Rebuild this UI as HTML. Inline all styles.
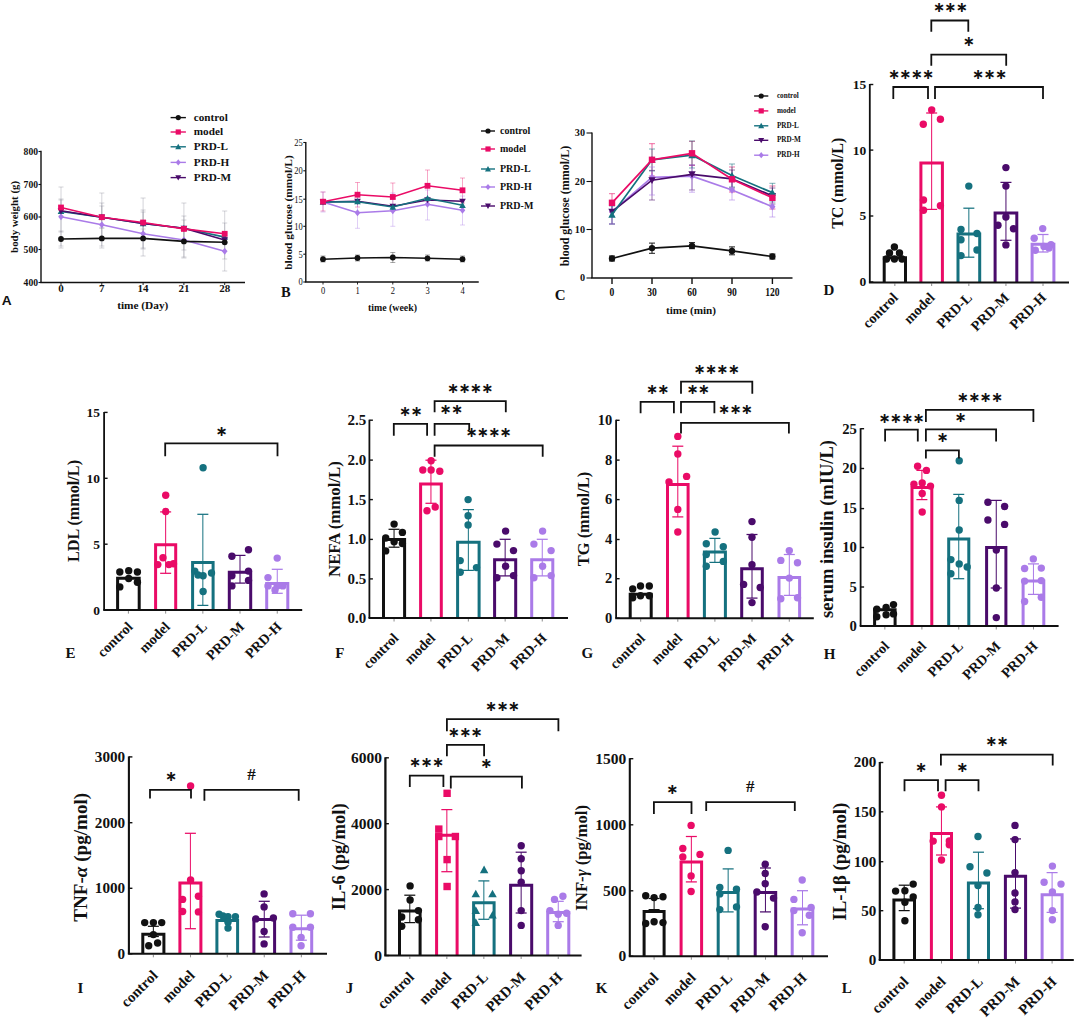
<!DOCTYPE html>
<html><head><meta charset="utf-8"><title>Figure</title>
<style>html,body{margin:0;padding:0;background:#fff;}svg{display:block;}</style></head>
<body><svg width="1080" height="1019" viewBox="0 0 1080 1019">
<rect width="1080" height="1019" fill="#fff"/>
<line x1="61" y1="187" x2="61" y2="246" stroke="#8a8a99" stroke-width="0.8" opacity="0.45"/>
<line x1="58.5" y1="187" x2="63.5" y2="187" stroke="#8a8a99" stroke-width="0.8" opacity="0.45"/>
<line x1="58.5" y1="246" x2="63.5" y2="246" stroke="#8a8a99" stroke-width="0.8" opacity="0.45"/>
<line x1="101.8" y1="193" x2="101.8" y2="240" stroke="#8a8a99" stroke-width="0.8" opacity="0.45"/>
<line x1="99.3" y1="193" x2="104.3" y2="193" stroke="#8a8a99" stroke-width="0.8" opacity="0.45"/>
<line x1="99.3" y1="240" x2="104.3" y2="240" stroke="#8a8a99" stroke-width="0.8" opacity="0.45"/>
<line x1="143.1" y1="198" x2="143.1" y2="248" stroke="#8a8a99" stroke-width="0.8" opacity="0.45"/>
<line x1="140.6" y1="198" x2="145.6" y2="198" stroke="#8a8a99" stroke-width="0.8" opacity="0.45"/>
<line x1="140.6" y1="248" x2="145.6" y2="248" stroke="#8a8a99" stroke-width="0.8" opacity="0.45"/>
<line x1="183.9" y1="203" x2="183.9" y2="250" stroke="#8a8a99" stroke-width="0.8" opacity="0.45"/>
<line x1="181.4" y1="203" x2="186.4" y2="203" stroke="#8a8a99" stroke-width="0.8" opacity="0.45"/>
<line x1="181.4" y1="250" x2="186.4" y2="250" stroke="#8a8a99" stroke-width="0.8" opacity="0.45"/>
<line x1="224.7" y1="211" x2="224.7" y2="259" stroke="#8a8a99" stroke-width="0.8" opacity="0.45"/>
<line x1="222.2" y1="211" x2="227.2" y2="211" stroke="#8a8a99" stroke-width="0.8" opacity="0.45"/>
<line x1="222.2" y1="259" x2="227.2" y2="259" stroke="#8a8a99" stroke-width="0.8" opacity="0.45"/>
<line x1="61" y1="200" x2="61" y2="232" stroke="#8a8a99" stroke-width="0.8" opacity="0.45"/>
<line x1="58.5" y1="200" x2="63.5" y2="200" stroke="#8a8a99" stroke-width="0.8" opacity="0.45"/>
<line x1="58.5" y1="232" x2="63.5" y2="232" stroke="#8a8a99" stroke-width="0.8" opacity="0.45"/>
<line x1="101.8" y1="203" x2="101.8" y2="246" stroke="#8a8a99" stroke-width="0.8" opacity="0.45"/>
<line x1="99.3" y1="203" x2="104.3" y2="203" stroke="#8a8a99" stroke-width="0.8" opacity="0.45"/>
<line x1="99.3" y1="246" x2="104.3" y2="246" stroke="#8a8a99" stroke-width="0.8" opacity="0.45"/>
<line x1="143.1" y1="210" x2="143.1" y2="256" stroke="#8a8a99" stroke-width="0.8" opacity="0.45"/>
<line x1="140.6" y1="210" x2="145.6" y2="210" stroke="#8a8a99" stroke-width="0.8" opacity="0.45"/>
<line x1="140.6" y1="256" x2="145.6" y2="256" stroke="#8a8a99" stroke-width="0.8" opacity="0.45"/>
<line x1="183.9" y1="220" x2="183.9" y2="258" stroke="#8a8a99" stroke-width="0.8" opacity="0.45"/>
<line x1="181.4" y1="220" x2="186.4" y2="220" stroke="#8a8a99" stroke-width="0.8" opacity="0.45"/>
<line x1="181.4" y1="258" x2="186.4" y2="258" stroke="#8a8a99" stroke-width="0.8" opacity="0.45"/>
<line x1="224.7" y1="236" x2="224.7" y2="271" stroke="#8a8a99" stroke-width="0.8" opacity="0.45"/>
<line x1="222.2" y1="236" x2="227.2" y2="236" stroke="#8a8a99" stroke-width="0.8" opacity="0.45"/>
<line x1="222.2" y1="271" x2="227.2" y2="271" stroke="#8a8a99" stroke-width="0.8" opacity="0.45"/>
<line x1="61" y1="231" x2="61" y2="248" stroke="#8a8a99" stroke-width="0.8" opacity="0.45"/>
<line x1="58.5" y1="231" x2="63.5" y2="231" stroke="#8a8a99" stroke-width="0.8" opacity="0.45"/>
<line x1="58.5" y1="248" x2="63.5" y2="248" stroke="#8a8a99" stroke-width="0.8" opacity="0.45"/>
<line x1="101.8" y1="228" x2="101.8" y2="248" stroke="#8a8a99" stroke-width="0.8" opacity="0.45"/>
<line x1="99.3" y1="228" x2="104.3" y2="228" stroke="#8a8a99" stroke-width="0.8" opacity="0.45"/>
<line x1="99.3" y1="248" x2="104.3" y2="248" stroke="#8a8a99" stroke-width="0.8" opacity="0.45"/>
<line x1="143.1" y1="229" x2="143.1" y2="249" stroke="#8a8a99" stroke-width="0.8" opacity="0.45"/>
<line x1="140.6" y1="229" x2="145.6" y2="229" stroke="#8a8a99" stroke-width="0.8" opacity="0.45"/>
<line x1="140.6" y1="249" x2="145.6" y2="249" stroke="#8a8a99" stroke-width="0.8" opacity="0.45"/>
<line x1="183.9" y1="229" x2="183.9" y2="257" stroke="#8a8a99" stroke-width="0.8" opacity="0.45"/>
<line x1="181.4" y1="229" x2="186.4" y2="229" stroke="#8a8a99" stroke-width="0.8" opacity="0.45"/>
<line x1="181.4" y1="257" x2="186.4" y2="257" stroke="#8a8a99" stroke-width="0.8" opacity="0.45"/>
<line x1="224.7" y1="233" x2="224.7" y2="251" stroke="#8a8a99" stroke-width="0.8" opacity="0.45"/>
<line x1="222.2" y1="233" x2="227.2" y2="233" stroke="#8a8a99" stroke-width="0.8" opacity="0.45"/>
<line x1="222.2" y1="251" x2="227.2" y2="251" stroke="#8a8a99" stroke-width="0.8" opacity="0.45"/>
<line x1="61" y1="199" x2="61" y2="216" stroke="#8a8a99" stroke-width="0.8" opacity="0.45"/>
<line x1="58.5" y1="199" x2="63.5" y2="199" stroke="#8a8a99" stroke-width="0.8" opacity="0.45"/>
<line x1="58.5" y1="216" x2="63.5" y2="216" stroke="#8a8a99" stroke-width="0.8" opacity="0.45"/>
<line x1="101.8" y1="206" x2="101.8" y2="228" stroke="#8a8a99" stroke-width="0.8" opacity="0.45"/>
<line x1="99.3" y1="206" x2="104.3" y2="206" stroke="#8a8a99" stroke-width="0.8" opacity="0.45"/>
<line x1="99.3" y1="228" x2="104.3" y2="228" stroke="#8a8a99" stroke-width="0.8" opacity="0.45"/>
<line x1="143.1" y1="212" x2="143.1" y2="233" stroke="#8a8a99" stroke-width="0.8" opacity="0.45"/>
<line x1="140.6" y1="212" x2="145.6" y2="212" stroke="#8a8a99" stroke-width="0.8" opacity="0.45"/>
<line x1="140.6" y1="233" x2="145.6" y2="233" stroke="#8a8a99" stroke-width="0.8" opacity="0.45"/>
<line x1="183.9" y1="216" x2="183.9" y2="241" stroke="#8a8a99" stroke-width="0.8" opacity="0.45"/>
<line x1="181.4" y1="216" x2="186.4" y2="216" stroke="#8a8a99" stroke-width="0.8" opacity="0.45"/>
<line x1="181.4" y1="241" x2="186.4" y2="241" stroke="#8a8a99" stroke-width="0.8" opacity="0.45"/>
<line x1="224.7" y1="223" x2="224.7" y2="244" stroke="#8a8a99" stroke-width="0.8" opacity="0.45"/>
<line x1="222.2" y1="223" x2="227.2" y2="223" stroke="#8a8a99" stroke-width="0.8" opacity="0.45"/>
<line x1="222.2" y1="244" x2="227.2" y2="244" stroke="#8a8a99" stroke-width="0.8" opacity="0.45"/>
<polyline points="61,216.7 101.8,224.8 143.1,233.8 183.9,240 224.7,251.3" fill="none" stroke="#AA7BE8" stroke-width="1.6"/>
<path d="M61 213.22L63.78 216.7L61 220.18L58.22 216.7Z" fill="#AA7BE8"/>
<path d="M101.8 221.32L104.58 224.8L101.8 228.28L99.02 224.8Z" fill="#AA7BE8"/>
<path d="M143.1 230.32L145.88 233.8L143.1 237.28L140.32 233.8Z" fill="#AA7BE8"/>
<path d="M183.9 236.52L186.68 240L183.9 243.48L181.12 240Z" fill="#AA7BE8"/>
<path d="M224.7 247.82L227.48 251.3L224.7 254.78L221.92 251.3Z" fill="#AA7BE8"/>
<polyline points="61,211.4 101.8,217.2 143.1,223.5 183.9,228.3 224.7,237.1" fill="none" stroke="#15717F" stroke-width="1.6"/>
<path d="M61 208.06L64.33 214.07L57.66 214.07Z" fill="#15717F"/>
<path d="M101.8 213.86L105.13 219.87L98.47 219.87Z" fill="#15717F"/>
<path d="M143.1 220.16L146.44 226.17L139.76 226.17Z" fill="#15717F"/>
<path d="M183.9 224.97L187.24 230.97L180.56 230.97Z" fill="#15717F"/>
<path d="M224.7 233.76L228.03 239.77L221.36 239.77Z" fill="#15717F"/>
<polyline points="61,210.8 101.8,217.2 143.1,223.5 183.9,228.3 224.7,240" fill="none" stroke="#4A0B6B" stroke-width="1.6"/>
<path d="M61 214.14L64.33 208.13L57.66 208.13Z" fill="#4A0B6B"/>
<path d="M101.8 220.53L105.13 214.53L98.47 214.53Z" fill="#4A0B6B"/>
<path d="M143.1 226.84L146.44 220.83L139.76 220.83Z" fill="#4A0B6B"/>
<path d="M183.9 231.64L187.24 225.63L180.56 225.63Z" fill="#4A0B6B"/>
<path d="M224.7 243.34L228.03 237.33L221.36 237.33Z" fill="#4A0B6B"/>
<polyline points="61,239 101.8,238.4 143.1,238.4 183.9,241.4 224.7,242.3" fill="none" stroke="#111111" stroke-width="1.6"/>
<circle cx="61" cy="239" r="2.9" fill="#111111"/>
<circle cx="101.8" cy="238.4" r="2.9" fill="#111111"/>
<circle cx="143.1" cy="238.4" r="2.9" fill="#111111"/>
<circle cx="183.9" cy="241.4" r="2.9" fill="#111111"/>
<circle cx="224.7" cy="242.3" r="2.9" fill="#111111"/>
<polyline points="61,207.5 101.8,217.2 143.1,222.5 183.9,228.9 224.7,233.8" fill="none" stroke="#EA0B66" stroke-width="1.6"/>
<rect x="58.1" y="204.6" width="5.8" height="5.8" fill="#EA0B66"/>
<rect x="98.9" y="214.3" width="5.8" height="5.8" fill="#EA0B66"/>
<rect x="140.2" y="219.6" width="5.8" height="5.8" fill="#EA0B66"/>
<rect x="181" y="226" width="5.8" height="5.8" fill="#EA0B66"/>
<rect x="221.8" y="230.9" width="5.8" height="5.8" fill="#EA0B66"/>
<line x1="41" y1="150.8" x2="41" y2="282.5" stroke="#111111" stroke-width="1.4" />
<line x1="40.3" y1="282.5" x2="245" y2="282.5" stroke="#111111" stroke-width="1.6" />
<line x1="38.5" y1="151.5" x2="41" y2="151.5" stroke="#111111" stroke-width="1.1" />
<text x="38" y="154.67" font-family="'Liberation Serif', 'DejaVu Serif', serif" font-weight="bold" font-size="9.6" text-anchor="end" fill="#111111" >800</text>
<line x1="38.5" y1="184.5" x2="41" y2="184.5" stroke="#111111" stroke-width="1.1" />
<text x="38" y="187.67" font-family="'Liberation Serif', 'DejaVu Serif', serif" font-weight="bold" font-size="9.6" text-anchor="end" fill="#111111" >700</text>
<line x1="38.5" y1="217" x2="41" y2="217" stroke="#111111" stroke-width="1.1" />
<text x="38" y="220.17" font-family="'Liberation Serif', 'DejaVu Serif', serif" font-weight="bold" font-size="9.6" text-anchor="end" fill="#111111" >600</text>
<line x1="38.5" y1="249.5" x2="41" y2="249.5" stroke="#111111" stroke-width="1.1" />
<text x="38" y="252.67" font-family="'Liberation Serif', 'DejaVu Serif', serif" font-weight="bold" font-size="9.6" text-anchor="end" fill="#111111" >500</text>
<line x1="38.5" y1="282.5" x2="41" y2="282.5" stroke="#111111" stroke-width="1.1" />
<text x="38" y="285.67" font-family="'Liberation Serif', 'DejaVu Serif', serif" font-weight="bold" font-size="9.6" text-anchor="end" fill="#111111" >400</text>
<line x1="61" y1="282.5" x2="61" y2="285" stroke="#111111" stroke-width="0.9" />
<text x="61" y="292.43" font-family="'Liberation Serif', 'DejaVu Serif', serif" font-weight="bold" font-size="11" text-anchor="middle" fill="#111111" >0</text>
<line x1="101.8" y1="282.5" x2="101.8" y2="285" stroke="#111111" stroke-width="0.9" />
<text x="101.8" y="292.43" font-family="'Liberation Serif', 'DejaVu Serif', serif" font-weight="bold" font-size="11" text-anchor="middle" fill="#111111" >7</text>
<line x1="143.1" y1="282.5" x2="143.1" y2="285" stroke="#111111" stroke-width="0.9" />
<text x="143.1" y="292.43" font-family="'Liberation Serif', 'DejaVu Serif', serif" font-weight="bold" font-size="11" text-anchor="middle" fill="#111111" >14</text>
<line x1="183.9" y1="282.5" x2="183.9" y2="285" stroke="#111111" stroke-width="0.9" />
<text x="183.9" y="292.43" font-family="'Liberation Serif', 'DejaVu Serif', serif" font-weight="bold" font-size="11" text-anchor="middle" fill="#111111" >21</text>
<line x1="224.7" y1="282.5" x2="224.7" y2="285" stroke="#111111" stroke-width="0.9" />
<text x="224.7" y="292.43" font-family="'Liberation Serif', 'DejaVu Serif', serif" font-weight="bold" font-size="11" text-anchor="middle" fill="#111111" >28</text>
<text x="142.75" y="308.73" font-family="'Liberation Serif', 'DejaVu Serif', serif" font-weight="bold" font-size="11.3" text-anchor="middle" fill="#111111" >time (Day)</text>
<text x="18.1" y="216.9" font-family="'Liberation Serif', 'DejaVu Serif', serif" font-weight="bold" font-size="10.9" text-anchor="middle" fill="#111111" transform="rotate(-90 18.1 216.9)" >body weight (g)</text>
<line x1="170.6" y1="117.6" x2="185.9" y2="117.6" stroke="#111111" stroke-width="1.4" />
<circle cx="178.25" cy="117.6" r="2.6" fill="#111111"/>
<text x="193.8" y="120.74" font-family="'Liberation Serif', 'DejaVu Serif', serif" font-weight="bold" font-size="11.2" text-anchor="start" fill="#111111" >control</text>
<line x1="170.6" y1="132" x2="185.9" y2="132" stroke="#EA0B66" stroke-width="1.4" />
<rect x="175.65" y="129.4" width="5.2" height="5.2" fill="#EA0B66"/>
<text x="193.8" y="135.14" font-family="'Liberation Serif', 'DejaVu Serif', serif" font-weight="bold" font-size="11.2" text-anchor="start" fill="#111111" >model</text>
<line x1="170.6" y1="146.8" x2="185.9" y2="146.8" stroke="#15717F" stroke-width="1.4" />
<path d="M178.25 143.81L181.24 149.19L175.26 149.19Z" fill="#15717F"/>
<text x="193.8" y="149.94" font-family="'Liberation Serif', 'DejaVu Serif', serif" font-weight="bold" font-size="11.2" text-anchor="start" fill="#111111" >PRD-L</text>
<line x1="170.6" y1="162.4" x2="185.9" y2="162.4" stroke="#AA7BE8" stroke-width="1.4" />
<path d="M178.25 159.28L180.75 162.4L178.25 165.52L175.75 162.4Z" fill="#AA7BE8"/>
<text x="193.8" y="165.54" font-family="'Liberation Serif', 'DejaVu Serif', serif" font-weight="bold" font-size="11.2" text-anchor="start" fill="#111111" >PRD-H</text>
<line x1="170.6" y1="177.6" x2="185.9" y2="177.6" stroke="#4A0B6B" stroke-width="1.4" />
<path d="M178.25 180.59L181.24 175.21L175.26 175.21Z" fill="#4A0B6B"/>
<text x="193.8" y="180.74" font-family="'Liberation Serif', 'DejaVu Serif', serif" font-weight="bold" font-size="11.2" text-anchor="start" fill="#111111" >PRD-M</text>
<text x="6.75" y="304.83" font-family="'Liberation Sans', sans-serif" font-weight="bold" font-size="13.7" text-anchor="middle" fill="#111111" >A</text>
<line x1="323" y1="192" x2="323" y2="211" stroke="#EA0B66" stroke-width="0.8" opacity="0.45"/>
<line x1="320.5" y1="192" x2="325.5" y2="192" stroke="#EA0B66" stroke-width="0.8" opacity="0.45"/>
<line x1="320.5" y1="211" x2="325.5" y2="211" stroke="#EA0B66" stroke-width="0.8" opacity="0.45"/>
<line x1="357.5" y1="182.5" x2="357.5" y2="207" stroke="#EA0B66" stroke-width="0.8" opacity="0.45"/>
<line x1="355" y1="182.5" x2="360" y2="182.5" stroke="#EA0B66" stroke-width="0.8" opacity="0.45"/>
<line x1="355" y1="207" x2="360" y2="207" stroke="#EA0B66" stroke-width="0.8" opacity="0.45"/>
<line x1="392.8" y1="183" x2="392.8" y2="211" stroke="#EA0B66" stroke-width="0.8" opacity="0.45"/>
<line x1="390.3" y1="183" x2="395.3" y2="183" stroke="#EA0B66" stroke-width="0.8" opacity="0.45"/>
<line x1="390.3" y1="211" x2="395.3" y2="211" stroke="#EA0B66" stroke-width="0.8" opacity="0.45"/>
<line x1="427.5" y1="170" x2="427.5" y2="201" stroke="#EA0B66" stroke-width="0.8" opacity="0.45"/>
<line x1="425" y1="170" x2="430" y2="170" stroke="#EA0B66" stroke-width="0.8" opacity="0.45"/>
<line x1="425" y1="201" x2="430" y2="201" stroke="#EA0B66" stroke-width="0.8" opacity="0.45"/>
<line x1="462.5" y1="178" x2="462.5" y2="203" stroke="#EA0B66" stroke-width="0.8" opacity="0.45"/>
<line x1="460" y1="178" x2="465" y2="178" stroke="#EA0B66" stroke-width="0.8" opacity="0.45"/>
<line x1="460" y1="203" x2="465" y2="203" stroke="#EA0B66" stroke-width="0.8" opacity="0.45"/>
<line x1="323" y1="192" x2="323" y2="212" stroke="#AA7BE8" stroke-width="0.8" opacity="0.45"/>
<line x1="320.5" y1="192" x2="325.5" y2="192" stroke="#AA7BE8" stroke-width="0.8" opacity="0.45"/>
<line x1="320.5" y1="212" x2="325.5" y2="212" stroke="#AA7BE8" stroke-width="0.8" opacity="0.45"/>
<line x1="357.5" y1="195" x2="357.5" y2="228.3" stroke="#AA7BE8" stroke-width="0.8" opacity="0.45"/>
<line x1="355" y1="195" x2="360" y2="195" stroke="#AA7BE8" stroke-width="0.8" opacity="0.45"/>
<line x1="355" y1="228.3" x2="360" y2="228.3" stroke="#AA7BE8" stroke-width="0.8" opacity="0.45"/>
<line x1="392.8" y1="193" x2="392.8" y2="226.3" stroke="#AA7BE8" stroke-width="0.8" opacity="0.45"/>
<line x1="390.3" y1="193" x2="395.3" y2="193" stroke="#AA7BE8" stroke-width="0.8" opacity="0.45"/>
<line x1="390.3" y1="226.3" x2="395.3" y2="226.3" stroke="#AA7BE8" stroke-width="0.8" opacity="0.45"/>
<line x1="427.5" y1="190" x2="427.5" y2="220" stroke="#AA7BE8" stroke-width="0.8" opacity="0.45"/>
<line x1="425" y1="190" x2="430" y2="190" stroke="#AA7BE8" stroke-width="0.8" opacity="0.45"/>
<line x1="425" y1="220" x2="430" y2="220" stroke="#AA7BE8" stroke-width="0.8" opacity="0.45"/>
<line x1="462.5" y1="196" x2="462.5" y2="225" stroke="#AA7BE8" stroke-width="0.8" opacity="0.45"/>
<line x1="460" y1="196" x2="465" y2="196" stroke="#AA7BE8" stroke-width="0.8" opacity="0.45"/>
<line x1="460" y1="225" x2="465" y2="225" stroke="#AA7BE8" stroke-width="0.8" opacity="0.45"/>
<line x1="323" y1="256" x2="323" y2="262" stroke="#111111" stroke-width="0.8" opacity="0.45"/>
<line x1="320.5" y1="256" x2="325.5" y2="256" stroke="#111111" stroke-width="0.8" opacity="0.45"/>
<line x1="320.5" y1="262" x2="325.5" y2="262" stroke="#111111" stroke-width="0.8" opacity="0.45"/>
<line x1="357.5" y1="255" x2="357.5" y2="261" stroke="#111111" stroke-width="0.8" opacity="0.45"/>
<line x1="355" y1="255" x2="360" y2="255" stroke="#111111" stroke-width="0.8" opacity="0.45"/>
<line x1="355" y1="261" x2="360" y2="261" stroke="#111111" stroke-width="0.8" opacity="0.45"/>
<line x1="392.8" y1="252.5" x2="392.8" y2="262.5" stroke="#111111" stroke-width="0.8" opacity="0.45"/>
<line x1="390.3" y1="252.5" x2="395.3" y2="252.5" stroke="#111111" stroke-width="0.8" opacity="0.45"/>
<line x1="390.3" y1="262.5" x2="395.3" y2="262.5" stroke="#111111" stroke-width="0.8" opacity="0.45"/>
<line x1="427.5" y1="255" x2="427.5" y2="261" stroke="#111111" stroke-width="0.8" opacity="0.45"/>
<line x1="425" y1="255" x2="430" y2="255" stroke="#111111" stroke-width="0.8" opacity="0.45"/>
<line x1="425" y1="261" x2="430" y2="261" stroke="#111111" stroke-width="0.8" opacity="0.45"/>
<line x1="462.5" y1="256" x2="462.5" y2="262" stroke="#111111" stroke-width="0.8" opacity="0.45"/>
<line x1="460" y1="256" x2="465" y2="256" stroke="#111111" stroke-width="0.8" opacity="0.45"/>
<line x1="460" y1="262" x2="465" y2="262" stroke="#111111" stroke-width="0.8" opacity="0.45"/>
<polyline points="323,202 357.5,212.8 392.8,210.8 427.5,204.2 462.5,210.3" fill="none" stroke="#AA7BE8" stroke-width="1.6"/>
<path d="M323 198.52L325.78 202L323 205.48L320.22 202Z" fill="#AA7BE8"/>
<path d="M357.5 209.32L360.28 212.8L357.5 216.28L354.72 212.8Z" fill="#AA7BE8"/>
<path d="M392.8 207.32L395.58 210.8L392.8 214.28L390.02 210.8Z" fill="#AA7BE8"/>
<path d="M427.5 200.72L430.28 204.2L427.5 207.68L424.72 204.2Z" fill="#AA7BE8"/>
<path d="M462.5 206.82L465.28 210.3L462.5 213.78L459.72 210.3Z" fill="#AA7BE8"/>
<polyline points="323,202 357.5,201.3 392.8,206.3 427.5,200 462.5,201.3" fill="none" stroke="#4A0B6B" stroke-width="1.6"/>
<path d="M323 205.34L326.33 199.33L319.67 199.33Z" fill="#4A0B6B"/>
<path d="M357.5 204.64L360.83 198.63L354.17 198.63Z" fill="#4A0B6B"/>
<path d="M392.8 209.64L396.13 203.63L389.47 203.63Z" fill="#4A0B6B"/>
<path d="M427.5 203.34L430.83 197.33L424.17 197.33Z" fill="#4A0B6B"/>
<path d="M462.5 204.64L465.83 198.63L459.17 198.63Z" fill="#4A0B6B"/>
<polyline points="323,202 357.5,201.7 392.8,207 427.5,198.3 462.5,205.3" fill="none" stroke="#15717F" stroke-width="1.6"/>
<path d="M323 198.66L326.33 204.67L319.67 204.67Z" fill="#15717F"/>
<path d="M357.5 198.36L360.83 204.37L354.17 204.37Z" fill="#15717F"/>
<path d="M392.8 203.66L396.13 209.67L389.47 209.67Z" fill="#15717F"/>
<path d="M427.5 194.97L430.83 200.97L424.17 200.97Z" fill="#15717F"/>
<path d="M462.5 201.97L465.83 207.97L459.17 207.97Z" fill="#15717F"/>
<polyline points="323,259.2 357.5,258 392.8,257.5 427.5,258.3 462.5,259.2" fill="none" stroke="#111111" stroke-width="1.6"/>
<circle cx="323" cy="259.2" r="2.9" fill="#111111"/>
<circle cx="357.5" cy="258" r="2.9" fill="#111111"/>
<circle cx="392.8" cy="257.5" r="2.9" fill="#111111"/>
<circle cx="427.5" cy="258.3" r="2.9" fill="#111111"/>
<circle cx="462.5" cy="259.2" r="2.9" fill="#111111"/>
<polyline points="323,201.7 357.5,194.7 392.8,197 427.5,185.8 462.5,190.3" fill="none" stroke="#EA0B66" stroke-width="1.6"/>
<rect x="320.1" y="198.8" width="5.8" height="5.8" fill="#EA0B66"/>
<rect x="354.6" y="191.8" width="5.8" height="5.8" fill="#EA0B66"/>
<rect x="389.9" y="194.1" width="5.8" height="5.8" fill="#EA0B66"/>
<rect x="424.6" y="182.9" width="5.8" height="5.8" fill="#EA0B66"/>
<rect x="459.6" y="187.4" width="5.8" height="5.8" fill="#EA0B66"/>
<line x1="305.8" y1="142" x2="305.8" y2="282" stroke="#111111" stroke-width="1.4" />
<line x1="305.1" y1="282" x2="478.75" y2="282" stroke="#111111" stroke-width="1.6" />
<line x1="303.3" y1="142.5" x2="305.8" y2="142.5" stroke="#111111" stroke-width="1.1" />
<text x="0" y="0" font-family="'Liberation Serif', 'DejaVu Serif', serif" font-weight="normal" font-size="10" text-anchor="end" fill="#111111" transform="translate(302.8 145.8) scale(0.85 1)" >25</text>
<line x1="303.3" y1="170.8" x2="305.8" y2="170.8" stroke="#111111" stroke-width="1.1" />
<text x="0" y="0" font-family="'Liberation Serif', 'DejaVu Serif', serif" font-weight="normal" font-size="10" text-anchor="end" fill="#111111" transform="translate(302.8 174.1) scale(0.85 1)" >20</text>
<line x1="303.3" y1="199.2" x2="305.8" y2="199.2" stroke="#111111" stroke-width="1.1" />
<text x="0" y="0" font-family="'Liberation Serif', 'DejaVu Serif', serif" font-weight="normal" font-size="10" text-anchor="end" fill="#111111" transform="translate(302.8 202.5) scale(0.85 1)" >15</text>
<line x1="303.3" y1="226.3" x2="305.8" y2="226.3" stroke="#111111" stroke-width="1.1" />
<text x="0" y="0" font-family="'Liberation Serif', 'DejaVu Serif', serif" font-weight="normal" font-size="10" text-anchor="end" fill="#111111" transform="translate(302.8 229.6) scale(0.85 1)" >10</text>
<line x1="303.3" y1="254.2" x2="305.8" y2="254.2" stroke="#111111" stroke-width="1.1" />
<text x="0" y="0" font-family="'Liberation Serif', 'DejaVu Serif', serif" font-weight="normal" font-size="10" text-anchor="end" fill="#111111" transform="translate(302.8 257.5) scale(0.85 1)" >5</text>
<line x1="303.3" y1="282" x2="305.8" y2="282" stroke="#111111" stroke-width="1.1" />
<text x="0" y="0" font-family="'Liberation Serif', 'DejaVu Serif', serif" font-weight="normal" font-size="10" text-anchor="end" fill="#111111" transform="translate(302.8 285.3) scale(0.85 1)" >0</text>
<line x1="323" y1="282" x2="323" y2="284.5" stroke="#111111" stroke-width="0.9" />
<text x="0" y="0" font-family="'Liberation Serif', 'DejaVu Serif', serif" font-weight="normal" font-size="10" text-anchor="middle" fill="#111111" transform="translate(323 293.8) scale(0.85 1)" >0</text>
<line x1="357.5" y1="282" x2="357.5" y2="284.5" stroke="#111111" stroke-width="0.9" />
<text x="0" y="0" font-family="'Liberation Serif', 'DejaVu Serif', serif" font-weight="normal" font-size="10" text-anchor="middle" fill="#111111" transform="translate(357.5 293.8) scale(0.85 1)" >1</text>
<line x1="392.8" y1="282" x2="392.8" y2="284.5" stroke="#111111" stroke-width="0.9" />
<text x="0" y="0" font-family="'Liberation Serif', 'DejaVu Serif', serif" font-weight="normal" font-size="10" text-anchor="middle" fill="#111111" transform="translate(392.8 293.8) scale(0.85 1)" >2</text>
<line x1="427.5" y1="282" x2="427.5" y2="284.5" stroke="#111111" stroke-width="0.9" />
<text x="0" y="0" font-family="'Liberation Serif', 'DejaVu Serif', serif" font-weight="normal" font-size="10" text-anchor="middle" fill="#111111" transform="translate(427.5 293.8) scale(0.85 1)" >3</text>
<line x1="462.5" y1="282" x2="462.5" y2="284.5" stroke="#111111" stroke-width="0.9" />
<text x="0" y="0" font-family="'Liberation Serif', 'DejaVu Serif', serif" font-weight="normal" font-size="10" text-anchor="middle" fill="#111111" transform="translate(462.5 293.8) scale(0.85 1)" >4</text>
<text x="392.5" y="311.27" font-family="'Liberation Serif', 'DejaVu Serif', serif" font-weight="bold" font-size="9.9" text-anchor="middle" fill="#111111" >time (week)</text>
<text x="291.56" y="212.5" font-family="'Liberation Serif', 'DejaVu Serif', serif" font-weight="bold" font-size="11.4" text-anchor="middle" fill="#111111" transform="rotate(-90 291.56 212.5)" >blood glucose (mmol/L)</text>
<line x1="481" y1="131" x2="495" y2="131" stroke="#111111" stroke-width="1.4" />
<circle cx="488" cy="131" r="2.6" fill="#111111"/>
<text x="500" y="133.8" font-family="'Liberation Serif', 'DejaVu Serif', serif" font-weight="bold" font-size="10" text-anchor="start" fill="#111111" >control</text>
<line x1="481" y1="149" x2="495" y2="149" stroke="#EA0B66" stroke-width="1.4" />
<rect x="485.4" y="146.4" width="5.2" height="5.2" fill="#EA0B66"/>
<text x="500" y="151.8" font-family="'Liberation Serif', 'DejaVu Serif', serif" font-weight="bold" font-size="10" text-anchor="start" fill="#111111" >model</text>
<line x1="481" y1="169" x2="495" y2="169" stroke="#15717F" stroke-width="1.4" />
<path d="M488 166.01L490.99 171.39L485.01 171.39Z" fill="#15717F"/>
<text x="500" y="171.8" font-family="'Liberation Serif', 'DejaVu Serif', serif" font-weight="bold" font-size="10" text-anchor="start" fill="#111111" >PRD-L</text>
<line x1="481" y1="187" x2="495" y2="187" stroke="#AA7BE8" stroke-width="1.4" />
<path d="M488 183.88L490.5 187L488 190.12L485.5 187Z" fill="#AA7BE8"/>
<text x="500" y="189.8" font-family="'Liberation Serif', 'DejaVu Serif', serif" font-weight="bold" font-size="10" text-anchor="start" fill="#111111" >PRD-H</text>
<line x1="481" y1="206" x2="495" y2="206" stroke="#4A0B6B" stroke-width="1.4" />
<path d="M488 208.99L490.99 203.61L485.01 203.61Z" fill="#4A0B6B"/>
<text x="500" y="208.8" font-family="'Liberation Serif', 'DejaVu Serif', serif" font-weight="bold" font-size="10" text-anchor="start" fill="#111111" >PRD-M</text>
<text x="285.8" y="296.81" font-family="'Liberation Serif', 'DejaVu Serif', serif" font-weight="bold" font-size="14.5" text-anchor="middle" fill="#111111" >B</text>
<line x1="612" y1="193.7" x2="612" y2="212" stroke="#EA0B66" stroke-width="1.0" opacity="0.6"/>
<line x1="609" y1="193.7" x2="615" y2="193.7" stroke="#EA0B66" stroke-width="1.0" opacity="0.6"/>
<line x1="609" y1="212" x2="615" y2="212" stroke="#EA0B66" stroke-width="1.0" opacity="0.6"/>
<line x1="652" y1="143.7" x2="652" y2="176" stroke="#EA0B66" stroke-width="1.0" opacity="0.6"/>
<line x1="649" y1="143.7" x2="655" y2="143.7" stroke="#EA0B66" stroke-width="1.0" opacity="0.6"/>
<line x1="649" y1="176" x2="655" y2="176" stroke="#EA0B66" stroke-width="1.0" opacity="0.6"/>
<line x1="692" y1="141.3" x2="692" y2="165.4" stroke="#EA0B66" stroke-width="1.0" opacity="0.6"/>
<line x1="689" y1="141.3" x2="695" y2="141.3" stroke="#EA0B66" stroke-width="1.0" opacity="0.6"/>
<line x1="689" y1="165.4" x2="695" y2="165.4" stroke="#EA0B66" stroke-width="1.0" opacity="0.6"/>
<line x1="732" y1="167" x2="732" y2="192" stroke="#EA0B66" stroke-width="1.0" opacity="0.6"/>
<line x1="729" y1="167" x2="735" y2="167" stroke="#EA0B66" stroke-width="1.0" opacity="0.6"/>
<line x1="729" y1="192" x2="735" y2="192" stroke="#EA0B66" stroke-width="1.0" opacity="0.6"/>
<line x1="772.4" y1="186" x2="772.4" y2="209" stroke="#EA0B66" stroke-width="1.0" opacity="0.6"/>
<line x1="769.4" y1="186" x2="775.4" y2="186" stroke="#EA0B66" stroke-width="1.0" opacity="0.6"/>
<line x1="769.4" y1="209" x2="775.4" y2="209" stroke="#EA0B66" stroke-width="1.0" opacity="0.6"/>
<line x1="612" y1="206" x2="612" y2="224" stroke="#15717F" stroke-width="1.0" opacity="0.55"/>
<line x1="609" y1="206" x2="615" y2="206" stroke="#15717F" stroke-width="1.0" opacity="0.55"/>
<line x1="609" y1="224" x2="615" y2="224" stroke="#15717F" stroke-width="1.0" opacity="0.55"/>
<line x1="652" y1="149" x2="652" y2="171" stroke="#15717F" stroke-width="1.0" opacity="0.55"/>
<line x1="649" y1="149" x2="655" y2="149" stroke="#15717F" stroke-width="1.0" opacity="0.55"/>
<line x1="649" y1="171" x2="655" y2="171" stroke="#15717F" stroke-width="1.0" opacity="0.55"/>
<line x1="692" y1="141" x2="692" y2="168" stroke="#15717F" stroke-width="1.0" opacity="0.55"/>
<line x1="689" y1="141" x2="695" y2="141" stroke="#15717F" stroke-width="1.0" opacity="0.55"/>
<line x1="689" y1="168" x2="695" y2="168" stroke="#15717F" stroke-width="1.0" opacity="0.55"/>
<line x1="732" y1="164" x2="732" y2="187" stroke="#15717F" stroke-width="1.0" opacity="0.55"/>
<line x1="729" y1="164" x2="735" y2="164" stroke="#15717F" stroke-width="1.0" opacity="0.55"/>
<line x1="729" y1="187" x2="735" y2="187" stroke="#15717F" stroke-width="1.0" opacity="0.55"/>
<line x1="772.4" y1="183.3" x2="772.4" y2="202" stroke="#15717F" stroke-width="1.0" opacity="0.55"/>
<line x1="769.4" y1="183.3" x2="775.4" y2="183.3" stroke="#15717F" stroke-width="1.0" opacity="0.55"/>
<line x1="769.4" y1="202" x2="775.4" y2="202" stroke="#15717F" stroke-width="1.0" opacity="0.55"/>
<line x1="612" y1="204" x2="612" y2="224" stroke="#4A0B6B" stroke-width="1.0" opacity="0.55"/>
<line x1="609" y1="204" x2="615" y2="204" stroke="#4A0B6B" stroke-width="1.0" opacity="0.55"/>
<line x1="609" y1="224" x2="615" y2="224" stroke="#4A0B6B" stroke-width="1.0" opacity="0.55"/>
<line x1="652" y1="170.4" x2="652" y2="200" stroke="#4A0B6B" stroke-width="1.0" opacity="0.55"/>
<line x1="649" y1="170.4" x2="655" y2="170.4" stroke="#4A0B6B" stroke-width="1.0" opacity="0.55"/>
<line x1="649" y1="200" x2="655" y2="200" stroke="#4A0B6B" stroke-width="1.0" opacity="0.55"/>
<line x1="692" y1="165" x2="692" y2="190" stroke="#4A0B6B" stroke-width="1.0" opacity="0.55"/>
<line x1="689" y1="165" x2="695" y2="165" stroke="#4A0B6B" stroke-width="1.0" opacity="0.55"/>
<line x1="689" y1="190" x2="695" y2="190" stroke="#4A0B6B" stroke-width="1.0" opacity="0.55"/>
<line x1="732" y1="170" x2="732" y2="188" stroke="#4A0B6B" stroke-width="1.0" opacity="0.55"/>
<line x1="729" y1="170" x2="735" y2="170" stroke="#4A0B6B" stroke-width="1.0" opacity="0.55"/>
<line x1="729" y1="188" x2="735" y2="188" stroke="#4A0B6B" stroke-width="1.0" opacity="0.55"/>
<line x1="772.4" y1="188" x2="772.4" y2="204" stroke="#4A0B6B" stroke-width="1.0" opacity="0.55"/>
<line x1="769.4" y1="188" x2="775.4" y2="188" stroke="#4A0B6B" stroke-width="1.0" opacity="0.55"/>
<line x1="769.4" y1="204" x2="775.4" y2="204" stroke="#4A0B6B" stroke-width="1.0" opacity="0.55"/>
<line x1="612" y1="204" x2="612" y2="224" stroke="#AA7BE8" stroke-width="1.0" opacity="0.55"/>
<line x1="609" y1="204" x2="615" y2="204" stroke="#AA7BE8" stroke-width="1.0" opacity="0.55"/>
<line x1="609" y1="224" x2="615" y2="224" stroke="#AA7BE8" stroke-width="1.0" opacity="0.55"/>
<line x1="652" y1="167" x2="652" y2="195" stroke="#AA7BE8" stroke-width="1.0" opacity="0.55"/>
<line x1="649" y1="167" x2="655" y2="167" stroke="#AA7BE8" stroke-width="1.0" opacity="0.55"/>
<line x1="649" y1="195" x2="655" y2="195" stroke="#AA7BE8" stroke-width="1.0" opacity="0.55"/>
<line x1="692" y1="165" x2="692" y2="192.2" stroke="#AA7BE8" stroke-width="1.0" opacity="0.55"/>
<line x1="689" y1="165" x2="695" y2="165" stroke="#AA7BE8" stroke-width="1.0" opacity="0.55"/>
<line x1="689" y1="192.2" x2="695" y2="192.2" stroke="#AA7BE8" stroke-width="1.0" opacity="0.55"/>
<line x1="732" y1="180" x2="732" y2="200" stroke="#AA7BE8" stroke-width="1.0" opacity="0.55"/>
<line x1="729" y1="180" x2="735" y2="180" stroke="#AA7BE8" stroke-width="1.0" opacity="0.55"/>
<line x1="729" y1="200" x2="735" y2="200" stroke="#AA7BE8" stroke-width="1.0" opacity="0.55"/>
<line x1="772.4" y1="198" x2="772.4" y2="217" stroke="#AA7BE8" stroke-width="1.0" opacity="0.55"/>
<line x1="769.4" y1="198" x2="775.4" y2="198" stroke="#AA7BE8" stroke-width="1.0" opacity="0.55"/>
<line x1="769.4" y1="217" x2="775.4" y2="217" stroke="#AA7BE8" stroke-width="1.0" opacity="0.55"/>
<line x1="612" y1="256" x2="612" y2="261" stroke="#111111" stroke-width="1.0" opacity="0.95"/>
<line x1="609" y1="256" x2="615" y2="256" stroke="#111111" stroke-width="1.0" opacity="0.95"/>
<line x1="609" y1="261" x2="615" y2="261" stroke="#111111" stroke-width="1.0" opacity="0.95"/>
<line x1="652" y1="243.1" x2="652" y2="253.3" stroke="#111111" stroke-width="1.0" opacity="0.95"/>
<line x1="649" y1="243.1" x2="655" y2="243.1" stroke="#111111" stroke-width="1.0" opacity="0.95"/>
<line x1="649" y1="253.3" x2="655" y2="253.3" stroke="#111111" stroke-width="1.0" opacity="0.95"/>
<line x1="692" y1="242.6" x2="692" y2="248.7" stroke="#111111" stroke-width="1.0" opacity="0.95"/>
<line x1="689" y1="242.6" x2="695" y2="242.6" stroke="#111111" stroke-width="1.0" opacity="0.95"/>
<line x1="689" y1="248.7" x2="695" y2="248.7" stroke="#111111" stroke-width="1.0" opacity="0.95"/>
<line x1="732" y1="246.9" x2="732" y2="254.8" stroke="#111111" stroke-width="1.0" opacity="0.95"/>
<line x1="729" y1="246.9" x2="735" y2="246.9" stroke="#111111" stroke-width="1.0" opacity="0.95"/>
<line x1="729" y1="254.8" x2="735" y2="254.8" stroke="#111111" stroke-width="1.0" opacity="0.95"/>
<line x1="772.4" y1="254" x2="772.4" y2="259" stroke="#111111" stroke-width="1.0" opacity="0.95"/>
<line x1="769.4" y1="254" x2="775.4" y2="254" stroke="#111111" stroke-width="1.0" opacity="0.95"/>
<line x1="769.4" y1="259" x2="775.4" y2="259" stroke="#111111" stroke-width="1.0" opacity="0.95"/>
<polyline points="612,211.7 652,177.4 692,176.1 732,190 772.4,206.7" fill="none" stroke="#AA7BE8" stroke-width="1.7"/>
<path d="M612 207.86L615.07 211.7L612 215.54L608.93 211.7Z" fill="#AA7BE8"/>
<path d="M652 173.56L655.07 177.4L652 181.24L648.93 177.4Z" fill="#AA7BE8"/>
<path d="M692 172.26L695.07 176.1L692 179.94L688.93 176.1Z" fill="#AA7BE8"/>
<path d="M732 186.16L735.07 190L732 193.84L728.93 190Z" fill="#AA7BE8"/>
<path d="M772.4 202.86L775.47 206.7L772.4 210.54L769.33 206.7Z" fill="#AA7BE8"/>
<polyline points="612,211.7 652,180.2 692,174.3 732,178.9 772.4,195.9" fill="none" stroke="#4A0B6B" stroke-width="1.7"/>
<path d="M612 215.38L615.68 208.76L608.32 208.76Z" fill="#4A0B6B"/>
<path d="M652 183.88L655.68 177.26L648.32 177.26Z" fill="#4A0B6B"/>
<path d="M692 177.98L695.68 171.36L688.32 171.36Z" fill="#4A0B6B"/>
<path d="M732 182.58L735.68 175.96L728.32 175.96Z" fill="#4A0B6B"/>
<path d="M772.4 199.58L776.08 192.96L768.72 192.96Z" fill="#4A0B6B"/>
<polyline points="612,214.8 652,159.8 692,155.2 732,175.6 772.4,192.6" fill="none" stroke="#15717F" stroke-width="1.7"/>
<path d="M612 211.12L615.68 217.74L608.32 217.74Z" fill="#15717F"/>
<path d="M652 156.12L655.68 162.74L648.32 162.74Z" fill="#15717F"/>
<path d="M692 151.52L695.68 158.14L688.32 158.14Z" fill="#15717F"/>
<path d="M732 171.92L735.68 178.54L728.32 178.54Z" fill="#15717F"/>
<path d="M772.4 188.92L776.08 195.54L768.72 195.54Z" fill="#15717F"/>
<polyline points="612,202.8 652,159.8 692,153.3 732,179.3 772.4,197.8" fill="none" stroke="#EA0B66" stroke-width="1.7"/>
<rect x="608.8" y="199.6" width="6.4" height="6.4" fill="#EA0B66"/>
<rect x="648.8" y="156.6" width="6.4" height="6.4" fill="#EA0B66"/>
<rect x="688.8" y="150.1" width="6.4" height="6.4" fill="#EA0B66"/>
<rect x="728.8" y="176.1" width="6.4" height="6.4" fill="#EA0B66"/>
<rect x="769.2" y="194.6" width="6.4" height="6.4" fill="#EA0B66"/>
<polyline points="612,258.5 652,248.1 692,245.9 732,250.9 772.4,256.5" fill="none" stroke="#111111" stroke-width="1.7"/>
<circle cx="612" cy="258.5" r="3.2" fill="#111111"/>
<circle cx="652" cy="248.1" r="3.2" fill="#111111"/>
<circle cx="692" cy="245.9" r="3.2" fill="#111111"/>
<circle cx="732" cy="250.9" r="3.2" fill="#111111"/>
<circle cx="772.4" cy="256.5" r="3.2" fill="#111111"/>
<line x1="592" y1="132.5" x2="592" y2="278" stroke="#111111" stroke-width="1.4" />
<line x1="591.3" y1="278" x2="792.5" y2="278" stroke="#111111" stroke-width="1.6" />
<line x1="586.5" y1="133" x2="592" y2="133" stroke="#111111" stroke-width="1.1" />
<text x="585" y="136.37" font-family="'Liberation Serif', 'DejaVu Serif', serif" font-weight="bold" font-size="10.2" text-anchor="end" fill="#111111" >30</text>
<line x1="586.5" y1="181.5" x2="592" y2="181.5" stroke="#111111" stroke-width="1.1" />
<text x="585" y="184.87" font-family="'Liberation Serif', 'DejaVu Serif', serif" font-weight="bold" font-size="10.2" text-anchor="end" fill="#111111" >20</text>
<line x1="586.5" y1="229.5" x2="592" y2="229.5" stroke="#111111" stroke-width="1.1" />
<text x="585" y="232.87" font-family="'Liberation Serif', 'DejaVu Serif', serif" font-weight="bold" font-size="10.2" text-anchor="end" fill="#111111" >10</text>
<line x1="586.5" y1="278" x2="592" y2="278" stroke="#111111" stroke-width="1.1" />
<text x="585" y="281.37" font-family="'Liberation Serif', 'DejaVu Serif', serif" font-weight="bold" font-size="10.2" text-anchor="end" fill="#111111" >0</text>
<line x1="612" y1="278" x2="612" y2="284" stroke="#111111" stroke-width="1.4" />
<text x="0" y="0" font-family="'Liberation Serif', 'DejaVu Serif', serif" font-weight="bold" font-size="12" text-anchor="middle" fill="#111111" transform="translate(612 296.46) scale(0.8 1)" >0</text>
<line x1="652" y1="278" x2="652" y2="284" stroke="#111111" stroke-width="1.4" />
<text x="0" y="0" font-family="'Liberation Serif', 'DejaVu Serif', serif" font-weight="bold" font-size="12" text-anchor="middle" fill="#111111" transform="translate(652 296.46) scale(0.8 1)" >30</text>
<line x1="692" y1="278" x2="692" y2="284" stroke="#111111" stroke-width="1.4" />
<text x="0" y="0" font-family="'Liberation Serif', 'DejaVu Serif', serif" font-weight="bold" font-size="12" text-anchor="middle" fill="#111111" transform="translate(692 296.46) scale(0.8 1)" >60</text>
<line x1="732" y1="278" x2="732" y2="284" stroke="#111111" stroke-width="1.4" />
<text x="0" y="0" font-family="'Liberation Serif', 'DejaVu Serif', serif" font-weight="bold" font-size="12" text-anchor="middle" fill="#111111" transform="translate(732 296.46) scale(0.8 1)" >90</text>
<line x1="772.4" y1="278" x2="772.4" y2="284" stroke="#111111" stroke-width="1.4" />
<text x="0" y="0" font-family="'Liberation Serif', 'DejaVu Serif', serif" font-weight="bold" font-size="12" text-anchor="middle" fill="#111111" transform="translate(772.4 296.46) scale(0.8 1)" >120</text>
<text x="691" y="314.2" font-family="'Liberation Serif', 'DejaVu Serif', serif" font-weight="bold" font-size="11.2" text-anchor="middle" fill="#111111" >time (min)</text>
<text x="568.96" y="206" font-family="'Liberation Serif', 'DejaVu Serif', serif" font-weight="bold" font-size="12" text-anchor="middle" fill="#111111" transform="rotate(-90 568.96 206)" >blood glucose (mmol/L)</text>
<line x1="754.1" y1="96" x2="768.3" y2="96" stroke="#111111" stroke-width="1.4" />
<circle cx="761.2" cy="96" r="2.6" fill="#111111"/>
<text x="776.9" y="98.02" font-family="'Liberation Serif', 'DejaVu Serif', serif" font-weight="bold" font-size="7.2" text-anchor="start" fill="#111111" >control</text>
<line x1="754.1" y1="110.9" x2="768.3" y2="110.9" stroke="#EA0B66" stroke-width="1.4" />
<rect x="758.6" y="108.3" width="5.2" height="5.2" fill="#EA0B66"/>
<text x="776.9" y="112.92" font-family="'Liberation Serif', 'DejaVu Serif', serif" font-weight="bold" font-size="7.2" text-anchor="start" fill="#111111" >model</text>
<line x1="754.1" y1="125.8" x2="768.3" y2="125.8" stroke="#15717F" stroke-width="1.4" />
<path d="M761.2 122.81L764.19 128.19L758.21 128.19Z" fill="#15717F"/>
<text x="776.9" y="127.82" font-family="'Liberation Serif', 'DejaVu Serif', serif" font-weight="bold" font-size="7.2" text-anchor="start" fill="#111111" >PRD-L</text>
<line x1="754.1" y1="140.3" x2="768.3" y2="140.3" stroke="#4A0B6B" stroke-width="1.4" />
<path d="M761.2 143.29L764.19 137.91L758.21 137.91Z" fill="#4A0B6B"/>
<text x="776.9" y="142.32" font-family="'Liberation Serif', 'DejaVu Serif', serif" font-weight="bold" font-size="7.2" text-anchor="start" fill="#111111" >PRD-M</text>
<line x1="754.1" y1="155.2" x2="768.3" y2="155.2" stroke="#AA7BE8" stroke-width="1.4" />
<path d="M761.2 152.08L763.7 155.2L761.2 158.32L758.7 155.2Z" fill="#AA7BE8"/>
<text x="776.9" y="157.22" font-family="'Liberation Serif', 'DejaVu Serif', serif" font-weight="bold" font-size="7.2" text-anchor="start" fill="#111111" >PRD-H</text>
<text x="560.2" y="299.77" font-family="'Liberation Serif', 'DejaVu Serif', serif" font-weight="bold" font-size="15" text-anchor="middle" fill="#111111" >C</text>
<path d="M884.2 282.5V257.7H905.5V282.5" fill="none" stroke="#111111" stroke-width="3.0"/>
<path d="M920.9 282.5V162.9H942.4V282.5" fill="none" stroke="#EA0B66" stroke-width="3.0"/>
<path d="M958 282.5V234H979.7V282.5" fill="none" stroke="#15717F" stroke-width="3.0"/>
<path d="M995.1 282.5V213H1016.8V282.5" fill="none" stroke="#4A0B6B" stroke-width="3.0"/>
<path d="M1032.1 282.5V244.3H1053.9V282.5" fill="none" stroke="#AA7BE8" stroke-width="3.0"/>
<circle cx="894.4" cy="247" r="3.7" fill="#111111"/>
<circle cx="889.5" cy="253" r="3.7" fill="#111111"/>
<circle cx="899.5" cy="253" r="3.7" fill="#111111"/>
<circle cx="886.5" cy="259" r="3.7" fill="#111111"/>
<circle cx="894.4" cy="259" r="3.7" fill="#111111"/>
<circle cx="902" cy="259" r="3.7" fill="#111111"/>
<line x1="931.65" y1="113" x2="931.65" y2="209.4" stroke="#EA0B66" stroke-width="1.0" />
<line x1="926.15" y1="113" x2="937.15" y2="113" stroke="#EA0B66" stroke-width="1.25" />
<line x1="926.15" y1="209.4" x2="937.15" y2="209.4" stroke="#EA0B66" stroke-width="1.25" />
<circle cx="931.7" cy="109.9" r="3.7" fill="#EA0B66"/>
<circle cx="923.3" cy="124.3" r="3.7" fill="#EA0B66"/>
<circle cx="940.4" cy="119.2" r="3.7" fill="#EA0B66"/>
<circle cx="923.5" cy="200" r="3.7" fill="#EA0B66"/>
<circle cx="923.5" cy="210.3" r="3.7" fill="#EA0B66"/>
<circle cx="940.4" cy="205.7" r="3.7" fill="#EA0B66"/>
<line x1="968.85" y1="208.2" x2="968.85" y2="257.2" stroke="#15717F" stroke-width="1.0" />
<line x1="963.35" y1="208.2" x2="974.35" y2="208.2" stroke="#15717F" stroke-width="1.25" />
<line x1="963.35" y1="257.2" x2="974.35" y2="257.2" stroke="#15717F" stroke-width="1.25" />
<circle cx="968.8" cy="186.1" r="3.7" fill="#15717F"/>
<circle cx="961" cy="229.4" r="3.7" fill="#15717F"/>
<circle cx="977" cy="233.5" r="3.7" fill="#15717F"/>
<circle cx="961" cy="239.7" r="3.7" fill="#15717F"/>
<circle cx="977" cy="250" r="3.7" fill="#15717F"/>
<circle cx="961" cy="255.6" r="3.7" fill="#15717F"/>
<line x1="1005.95" y1="182.4" x2="1005.95" y2="240.3" stroke="#4A0B6B" stroke-width="1.0" />
<line x1="1000.45" y1="182.4" x2="1011.45" y2="182.4" stroke="#4A0B6B" stroke-width="1.25" />
<line x1="1000.45" y1="240.3" x2="1011.45" y2="240.3" stroke="#4A0B6B" stroke-width="1.25" />
<circle cx="1005.9" cy="167.6" r="3.7" fill="#4A0B6B"/>
<circle cx="1005.9" cy="186.1" r="3.7" fill="#4A0B6B"/>
<circle cx="1005.9" cy="217" r="3.7" fill="#4A0B6B"/>
<circle cx="998" cy="225.3" r="3.7" fill="#4A0B6B"/>
<circle cx="1013.5" cy="228.8" r="3.7" fill="#4A0B6B"/>
<circle cx="1005.9" cy="244.9" r="3.7" fill="#4A0B6B"/>
<line x1="1043" y1="234.5" x2="1043" y2="252" stroke="#AA7BE8" stroke-width="1.0" />
<line x1="1037.5" y1="234.5" x2="1048.5" y2="234.5" stroke="#AA7BE8" stroke-width="1.25" />
<line x1="1037.5" y1="252" x2="1048.5" y2="252" stroke="#AA7BE8" stroke-width="1.25" />
<circle cx="1042.7" cy="228.6" r="3.7" fill="#AA7BE8"/>
<circle cx="1034.2" cy="238.3" r="3.7" fill="#AA7BE8"/>
<circle cx="1051" cy="244.8" r="3.7" fill="#AA7BE8"/>
<circle cx="1044" cy="246.4" r="3.7" fill="#AA7BE8"/>
<circle cx="1035.3" cy="250.2" r="3.7" fill="#AA7BE8"/>
<circle cx="1049" cy="248" r="3.7" fill="#AA7BE8"/>
<line x1="869.8" y1="84" x2="869.8" y2="282.5" stroke="#111111" stroke-width="1.8" />
<line x1="868.9" y1="282.5" x2="1069" y2="282.5" stroke="#111111" stroke-width="2.0" />
<line x1="869.8" y1="84.5" x2="873.3" y2="84.5" stroke="#111111" stroke-width="1.4" />
<text x="866.3" y="88.95" font-family="'Liberation Serif', 'DejaVu Serif', serif" font-weight="bold" font-size="13.5" text-anchor="end" fill="#111111" >15</text>
<line x1="869.8" y1="150.1" x2="873.3" y2="150.1" stroke="#111111" stroke-width="1.4" />
<text x="866.3" y="154.56" font-family="'Liberation Serif', 'DejaVu Serif', serif" font-weight="bold" font-size="13.5" text-anchor="end" fill="#111111" >10</text>
<line x1="869.8" y1="216" x2="873.3" y2="216" stroke="#111111" stroke-width="1.4" />
<text x="866.3" y="220.46" font-family="'Liberation Serif', 'DejaVu Serif', serif" font-weight="bold" font-size="13.5" text-anchor="end" fill="#111111" >5</text>
<line x1="869.8" y1="282" x2="873.3" y2="282" stroke="#111111" stroke-width="1.4" />
<text x="866.3" y="286.45" font-family="'Liberation Serif', 'DejaVu Serif', serif" font-weight="bold" font-size="13.5" text-anchor="end" fill="#111111" >0</text>
<line x1="894.85" y1="283.5" x2="894.85" y2="286" stroke="#111111" stroke-width="0.8" opacity="0.6"/>
<text x="898.85" y="298.5" font-family="'Liberation Serif', 'DejaVu Serif', serif" font-weight="bold" font-size="14.2" text-anchor="end" fill="#111111" transform="rotate(-45 898.85 298.5)" >control</text>
<line x1="931.65" y1="283.5" x2="931.65" y2="286" stroke="#111111" stroke-width="0.8" opacity="0.6"/>
<text x="935.65" y="298.5" font-family="'Liberation Serif', 'DejaVu Serif', serif" font-weight="bold" font-size="14.2" text-anchor="end" fill="#111111" transform="rotate(-45 935.65 298.5)" >model</text>
<line x1="968.85" y1="283.5" x2="968.85" y2="286" stroke="#111111" stroke-width="0.8" opacity="0.6"/>
<text x="972.85" y="298.5" font-family="'Liberation Serif', 'DejaVu Serif', serif" font-weight="bold" font-size="14.2" text-anchor="end" fill="#111111" transform="rotate(-45 972.85 298.5)" >PRD-L</text>
<line x1="1005.95" y1="283.5" x2="1005.95" y2="286" stroke="#111111" stroke-width="0.8" opacity="0.6"/>
<text x="1009.95" y="298.5" font-family="'Liberation Serif', 'DejaVu Serif', serif" font-weight="bold" font-size="14.2" text-anchor="end" fill="#111111" transform="rotate(-45 1009.95 298.5)" >PRD-M</text>
<line x1="1043" y1="283.5" x2="1043" y2="286" stroke="#111111" stroke-width="0.8" opacity="0.6"/>
<text x="1047" y="298.5" font-family="'Liberation Serif', 'DejaVu Serif', serif" font-weight="bold" font-size="14.2" text-anchor="end" fill="#111111" transform="rotate(-45 1047 298.5)" >PRD-H</text>
<path d="M893.3 99V87H928V99" fill="none" stroke="#111111" stroke-width="1.8" stroke-linejoin="miter"/>
<text x="894 905.4 916.8 928.2" y="78.77" font-family="'DejaVu Sans', sans-serif" font-weight="bold" font-size="14.5" text-anchor="middle" fill="#111111">∗∗∗∗</text>
<path d="M935 99V87H1043V99" fill="none" stroke="#111111" stroke-width="1.8" stroke-linejoin="miter"/>
<text x="978.2 989.6 1001" y="78.77" font-family="'DejaVu Sans', sans-serif" font-weight="bold" font-size="14.5" text-anchor="middle" fill="#111111">∗∗∗</text>
<path d="M931.3 65.8V54.7H1006.2V65.8" fill="none" stroke="#111111" stroke-width="1.8" stroke-linejoin="miter"/>
<text x="968.8" y="46.27" font-family="'DejaVu Sans', sans-serif" font-weight="bold" font-size="14.5" text-anchor="middle" fill="#111111">∗</text>
<path d="M931.3 31.7V20.5H968.3V31.7" fill="none" stroke="#111111" stroke-width="1.8" stroke-linejoin="miter"/>
<text x="939 950.4 961.8" y="11.97" font-family="'DejaVu Sans', sans-serif" font-weight="bold" font-size="14.5" text-anchor="middle" fill="#111111">∗∗∗</text>
<text x="843.3" y="183.3" font-family="'Liberation Serif', 'DejaVu Serif', serif" font-weight="bold" font-size="16" text-anchor="middle" fill="#111111" transform="rotate(-90 843.3 183.3)" >TC (mmol/L)</text>
<text x="828.9" y="295.48" font-family="'Liberation Serif', 'DejaVu Serif', serif" font-weight="bold" font-size="15" text-anchor="middle" fill="#111111" >D</text>
<path d="M117.6 610.1V578.2H139.2V610.1" fill="none" stroke="#111111" stroke-width="3.0"/>
<path d="M155.6 610.1V544.8H175.7V610.1" fill="none" stroke="#EA0B66" stroke-width="3.0"/>
<path d="M192.6 610.1V562.4H213.1V610.1" fill="none" stroke="#15717F" stroke-width="3.0"/>
<path d="M229.3 610.1V572.2H250.7V610.1" fill="none" stroke="#4A0B6B" stroke-width="3.0"/>
<path d="M266.7 610.1V583.4H287.8V610.1" fill="none" stroke="#AA7BE8" stroke-width="3.0"/>
<circle cx="119.8" cy="572" r="3.7" fill="#111111"/>
<circle cx="128.7" cy="570.7" r="3.7" fill="#111111"/>
<circle cx="137.4" cy="572" r="3.7" fill="#111111"/>
<circle cx="128.7" cy="578.5" r="3.7" fill="#111111"/>
<circle cx="119.8" cy="586.9" r="3.7" fill="#111111"/>
<circle cx="137.4" cy="582.2" r="3.7" fill="#111111"/>
<line x1="165.65" y1="511.9" x2="165.65" y2="573.3" stroke="#EA0B66" stroke-width="1.0" />
<line x1="160.15" y1="511.9" x2="171.15" y2="511.9" stroke="#EA0B66" stroke-width="1.25" />
<line x1="160.15" y1="573.3" x2="171.15" y2="573.3" stroke="#EA0B66" stroke-width="1.25" />
<circle cx="165.7" cy="495.2" r="3.7" fill="#EA0B66"/>
<circle cx="165.7" cy="511.5" r="3.7" fill="#EA0B66"/>
<circle cx="163" cy="557.8" r="3.7" fill="#EA0B66"/>
<circle cx="157.8" cy="564.6" r="3.7" fill="#EA0B66"/>
<circle cx="168.9" cy="564.6" r="3.7" fill="#EA0B66"/>
<circle cx="173.5" cy="563.7" r="3.7" fill="#EA0B66"/>
<line x1="202.85" y1="514.3" x2="202.85" y2="605.4" stroke="#15717F" stroke-width="1.0" />
<line x1="197.35" y1="514.3" x2="208.35" y2="514.3" stroke="#15717F" stroke-width="1.25" />
<line x1="197.35" y1="605.4" x2="208.35" y2="605.4" stroke="#15717F" stroke-width="1.25" />
<circle cx="203.1" cy="467.8" r="3.7" fill="#15717F"/>
<circle cx="194.8" cy="571.1" r="3.7" fill="#15717F"/>
<circle cx="203.1" cy="575.7" r="3.7" fill="#15717F"/>
<circle cx="211.5" cy="573" r="3.7" fill="#15717F"/>
<circle cx="203.1" cy="591.5" r="3.7" fill="#15717F"/>
<circle cx="198" cy="575" r="3.7" fill="#15717F"/>
<line x1="240" y1="555.4" x2="240" y2="583.1" stroke="#4A0B6B" stroke-width="1.0" />
<line x1="234.5" y1="555.4" x2="245.5" y2="555.4" stroke="#4A0B6B" stroke-width="1.25" />
<line x1="234.5" y1="583.1" x2="245.5" y2="583.1" stroke="#4A0B6B" stroke-width="1.25" />
<circle cx="231.9" cy="556.3" r="3.7" fill="#4A0B6B"/>
<circle cx="248.5" cy="549.8" r="3.7" fill="#4A0B6B"/>
<circle cx="248.5" cy="571.1" r="3.7" fill="#4A0B6B"/>
<circle cx="231.9" cy="575.7" r="3.7" fill="#4A0B6B"/>
<circle cx="248.5" cy="580.4" r="3.7" fill="#4A0B6B"/>
<circle cx="231.9" cy="585.9" r="3.7" fill="#4A0B6B"/>
<line x1="277.25" y1="569.3" x2="277.25" y2="593.3" stroke="#AA7BE8" stroke-width="1.0" />
<line x1="271.75" y1="569.3" x2="282.75" y2="569.3" stroke="#AA7BE8" stroke-width="1.25" />
<line x1="271.75" y1="593.3" x2="282.75" y2="593.3" stroke="#AA7BE8" stroke-width="1.25" />
<circle cx="277.2" cy="558.1" r="3.7" fill="#AA7BE8"/>
<circle cx="268" cy="577.6" r="3.7" fill="#AA7BE8"/>
<circle cx="268" cy="585.9" r="3.7" fill="#AA7BE8"/>
<circle cx="277.2" cy="585.9" r="3.7" fill="#AA7BE8"/>
<circle cx="282.8" cy="585.9" r="3.7" fill="#AA7BE8"/>
<circle cx="275" cy="590" r="3.7" fill="#AA7BE8"/>
<line x1="104.1" y1="411.9" x2="104.1" y2="610.1" stroke="#111111" stroke-width="1.8" />
<line x1="103.2" y1="610.1" x2="302.2" y2="610.1" stroke="#111111" stroke-width="2.0" />
<line x1="104.1" y1="412.4" x2="107.6" y2="412.4" stroke="#111111" stroke-width="1.4" />
<text x="100.1" y="416.85" font-family="'Liberation Serif', 'DejaVu Serif', serif" font-weight="bold" font-size="13.5" text-anchor="end" fill="#111111" >15</text>
<line x1="104.1" y1="478.3" x2="107.6" y2="478.3" stroke="#111111" stroke-width="1.4" />
<text x="100.1" y="482.75" font-family="'Liberation Serif', 'DejaVu Serif', serif" font-weight="bold" font-size="13.5" text-anchor="end" fill="#111111" >10</text>
<line x1="104.1" y1="544.2" x2="107.6" y2="544.2" stroke="#111111" stroke-width="1.4" />
<text x="100.1" y="548.66" font-family="'Liberation Serif', 'DejaVu Serif', serif" font-weight="bold" font-size="13.5" text-anchor="end" fill="#111111" >5</text>
<line x1="104.1" y1="610.1" x2="107.6" y2="610.1" stroke="#111111" stroke-width="1.4" />
<text x="100.1" y="614.56" font-family="'Liberation Serif', 'DejaVu Serif', serif" font-weight="bold" font-size="13.5" text-anchor="end" fill="#111111" >0</text>
<line x1="128.4" y1="611.1" x2="128.4" y2="613.6" stroke="#111111" stroke-width="0.8" opacity="0.6"/>
<text x="133.6" y="627.6" font-family="'Liberation Serif', 'DejaVu Serif', serif" font-weight="bold" font-size="14.2" text-anchor="end" fill="#111111" transform="rotate(-45 133.6 627.6)" >control</text>
<line x1="165.65" y1="611.1" x2="165.65" y2="613.6" stroke="#111111" stroke-width="0.8" opacity="0.6"/>
<text x="170.85" y="627.6" font-family="'Liberation Serif', 'DejaVu Serif', serif" font-weight="bold" font-size="14.2" text-anchor="end" fill="#111111" transform="rotate(-45 170.85 627.6)" >model</text>
<line x1="202.85" y1="611.1" x2="202.85" y2="613.6" stroke="#111111" stroke-width="0.8" opacity="0.6"/>
<text x="208.05" y="627.6" font-family="'Liberation Serif', 'DejaVu Serif', serif" font-weight="bold" font-size="14.2" text-anchor="end" fill="#111111" transform="rotate(-45 208.05 627.6)" >PRD-L</text>
<line x1="240" y1="611.1" x2="240" y2="613.6" stroke="#111111" stroke-width="0.8" opacity="0.6"/>
<text x="245.2" y="627.6" font-family="'Liberation Serif', 'DejaVu Serif', serif" font-weight="bold" font-size="14.2" text-anchor="end" fill="#111111" transform="rotate(-45 245.2 627.6)" >PRD-M</text>
<line x1="277.25" y1="611.1" x2="277.25" y2="613.6" stroke="#111111" stroke-width="0.8" opacity="0.6"/>
<text x="282.45" y="627.6" font-family="'Liberation Serif', 'DejaVu Serif', serif" font-weight="bold" font-size="14.2" text-anchor="end" fill="#111111" transform="rotate(-45 282.45 627.6)" >PRD-H</text>
<path d="M165.2 456.3V443.4H277.5V456.3" fill="none" stroke="#111111" stroke-width="1.8" stroke-linejoin="miter"/>
<text x="221.5" y="436.17" font-family="'DejaVu Sans', sans-serif" font-weight="bold" font-size="14.5" text-anchor="middle" fill="#111111">∗</text>
<text x="78.86" y="511" font-family="'Liberation Serif', 'DejaVu Serif', serif" font-weight="bold" font-size="16.2" text-anchor="middle" fill="#111111" transform="rotate(-90 78.86 511)" >LDL (mmol/L)</text>
<text x="70.5" y="657.77" font-family="'Liberation Serif', 'DejaVu Serif', serif" font-weight="bold" font-size="15" text-anchor="middle" fill="#111111" >E</text>
<path d="M383.5 618V539.5H404.6V618" fill="none" stroke="#111111" stroke-width="3.0"/>
<path d="M420.6 618V483.9H441.3V618" fill="none" stroke="#EA0B66" stroke-width="3.0"/>
<path d="M457.6 618V542.2H479.1V618" fill="none" stroke="#15717F" stroke-width="3.0"/>
<path d="M494.6 618V559.8H515.7V618" fill="none" stroke="#4A0B6B" stroke-width="3.0"/>
<path d="M531.7 618V559.8H552.8V618" fill="none" stroke="#AA7BE8" stroke-width="3.0"/>
<line x1="394.05" y1="529.3" x2="394.05" y2="547.2" stroke="#111111" stroke-width="1.0" />
<line x1="388.55" y1="529.3" x2="399.55" y2="529.3" stroke="#111111" stroke-width="1.25" />
<line x1="388.55" y1="547.2" x2="399.55" y2="547.2" stroke="#111111" stroke-width="1.25" />
<circle cx="394.1" cy="524.1" r="3.7" fill="#111111"/>
<circle cx="385.7" cy="538" r="3.7" fill="#111111"/>
<circle cx="402.4" cy="532.4" r="3.7" fill="#111111"/>
<circle cx="394.1" cy="541.7" r="3.7" fill="#111111"/>
<circle cx="402.4" cy="543.5" r="3.7" fill="#111111"/>
<circle cx="385.7" cy="550.9" r="3.7" fill="#111111"/>
<line x1="430.95" y1="460.2" x2="430.95" y2="503.3" stroke="#EA0B66" stroke-width="1.0" />
<line x1="425.45" y1="460.2" x2="436.45" y2="460.2" stroke="#EA0B66" stroke-width="1.25" />
<line x1="425.45" y1="503.3" x2="436.45" y2="503.3" stroke="#EA0B66" stroke-width="1.25" />
<circle cx="431.1" cy="460.7" r="3.7" fill="#EA0B66"/>
<circle cx="422.8" cy="470" r="3.7" fill="#EA0B66"/>
<circle cx="431.1" cy="470" r="3.7" fill="#EA0B66"/>
<circle cx="439.8" cy="471.3" r="3.7" fill="#EA0B66"/>
<circle cx="427" cy="510.7" r="3.7" fill="#EA0B66"/>
<circle cx="435.2" cy="507" r="3.7" fill="#EA0B66"/>
<line x1="468.35" y1="509.6" x2="468.35" y2="570.4" stroke="#15717F" stroke-width="1.0" />
<line x1="462.85" y1="509.6" x2="473.85" y2="509.6" stroke="#15717F" stroke-width="1.25" />
<line x1="462.85" y1="570.4" x2="473.85" y2="570.4" stroke="#15717F" stroke-width="1.25" />
<circle cx="468.1" cy="499.6" r="3.7" fill="#15717F"/>
<circle cx="468.1" cy="515.7" r="3.7" fill="#15717F"/>
<circle cx="468.1" cy="525" r="3.7" fill="#15717F"/>
<circle cx="460.2" cy="560.6" r="3.7" fill="#15717F"/>
<circle cx="476.5" cy="567.6" r="3.7" fill="#15717F"/>
<circle cx="460.2" cy="572.2" r="3.7" fill="#15717F"/>
<line x1="505.15" y1="539.3" x2="505.15" y2="575.9" stroke="#4A0B6B" stroke-width="1.0" />
<line x1="499.65" y1="539.3" x2="510.65" y2="539.3" stroke="#4A0B6B" stroke-width="1.25" />
<line x1="499.65" y1="575.9" x2="510.65" y2="575.9" stroke="#4A0B6B" stroke-width="1.25" />
<circle cx="505.6" cy="531.1" r="3.7" fill="#4A0B6B"/>
<circle cx="496.9" cy="544.1" r="3.7" fill="#4A0B6B"/>
<circle cx="513.5" cy="550.6" r="3.7" fill="#4A0B6B"/>
<circle cx="505.6" cy="566.3" r="3.7" fill="#4A0B6B"/>
<circle cx="496.9" cy="577.8" r="3.7" fill="#4A0B6B"/>
<circle cx="513.5" cy="575.6" r="3.7" fill="#4A0B6B"/>
<line x1="542.25" y1="539.3" x2="542.25" y2="575.9" stroke="#AA7BE8" stroke-width="1.0" />
<line x1="536.75" y1="539.3" x2="547.75" y2="539.3" stroke="#AA7BE8" stroke-width="1.25" />
<line x1="536.75" y1="575.9" x2="547.75" y2="575.9" stroke="#AA7BE8" stroke-width="1.25" />
<circle cx="542.6" cy="531.1" r="3.7" fill="#AA7BE8"/>
<circle cx="533.9" cy="544.1" r="3.7" fill="#AA7BE8"/>
<circle cx="551.1" cy="550.6" r="3.7" fill="#AA7BE8"/>
<circle cx="542.6" cy="566.3" r="3.7" fill="#AA7BE8"/>
<circle cx="533.9" cy="577.8" r="3.7" fill="#AA7BE8"/>
<circle cx="551.1" cy="575.6" r="3.7" fill="#AA7BE8"/>
<line x1="369.4" y1="419.7" x2="369.4" y2="618" stroke="#111111" stroke-width="1.8" />
<line x1="368.5" y1="618" x2="568" y2="618" stroke="#111111" stroke-width="2.0" />
<line x1="369.4" y1="420.2" x2="372.9" y2="420.2" stroke="#111111" stroke-width="1.4" />
<text x="366.2" y="425.15" font-family="'Liberation Serif', 'DejaVu Serif', serif" font-weight="bold" font-size="15" text-anchor="end" fill="#111111" >2.5</text>
<line x1="369.4" y1="460.1" x2="372.9" y2="460.1" stroke="#111111" stroke-width="1.4" />
<text x="366.2" y="465.05" font-family="'Liberation Serif', 'DejaVu Serif', serif" font-weight="bold" font-size="15" text-anchor="end" fill="#111111" >2.0</text>
<line x1="369.4" y1="499.6" x2="372.9" y2="499.6" stroke="#111111" stroke-width="1.4" />
<text x="366.2" y="504.55" font-family="'Liberation Serif', 'DejaVu Serif', serif" font-weight="bold" font-size="15" text-anchor="end" fill="#111111" >1.5</text>
<line x1="369.4" y1="539.4" x2="372.9" y2="539.4" stroke="#111111" stroke-width="1.4" />
<text x="366.2" y="544.35" font-family="'Liberation Serif', 'DejaVu Serif', serif" font-weight="bold" font-size="15" text-anchor="end" fill="#111111" >1.0</text>
<line x1="369.4" y1="578.9" x2="372.9" y2="578.9" stroke="#111111" stroke-width="1.4" />
<text x="366.2" y="583.85" font-family="'Liberation Serif', 'DejaVu Serif', serif" font-weight="bold" font-size="15" text-anchor="end" fill="#111111" >0.5</text>
<line x1="369.4" y1="618" x2="372.9" y2="618" stroke="#111111" stroke-width="1.4" />
<text x="366.2" y="622.95" font-family="'Liberation Serif', 'DejaVu Serif', serif" font-weight="bold" font-size="15" text-anchor="end" fill="#111111" >0.0</text>
<line x1="394.05" y1="619" x2="394.05" y2="621.5" stroke="#111111" stroke-width="0.8" opacity="0.6"/>
<text x="399.25" y="639" font-family="'Liberation Serif', 'DejaVu Serif', serif" font-weight="bold" font-size="14.2" text-anchor="end" fill="#111111" transform="rotate(-45 399.25 639)" >control</text>
<line x1="430.95" y1="619" x2="430.95" y2="621.5" stroke="#111111" stroke-width="0.8" opacity="0.6"/>
<text x="436.15" y="639" font-family="'Liberation Serif', 'DejaVu Serif', serif" font-weight="bold" font-size="14.2" text-anchor="end" fill="#111111" transform="rotate(-45 436.15 639)" >model</text>
<line x1="468.35" y1="619" x2="468.35" y2="621.5" stroke="#111111" stroke-width="0.8" opacity="0.6"/>
<text x="473.55" y="639" font-family="'Liberation Serif', 'DejaVu Serif', serif" font-weight="bold" font-size="14.2" text-anchor="end" fill="#111111" transform="rotate(-45 473.55 639)" >PRD-L</text>
<line x1="505.15" y1="619" x2="505.15" y2="621.5" stroke="#111111" stroke-width="0.8" opacity="0.6"/>
<text x="510.35" y="639" font-family="'Liberation Serif', 'DejaVu Serif', serif" font-weight="bold" font-size="14.2" text-anchor="end" fill="#111111" transform="rotate(-45 510.35 639)" >PRD-M</text>
<line x1="542.25" y1="619" x2="542.25" y2="621.5" stroke="#111111" stroke-width="0.8" opacity="0.6"/>
<text x="547.45" y="639" font-family="'Liberation Serif', 'DejaVu Serif', serif" font-weight="bold" font-size="14.2" text-anchor="end" fill="#111111" transform="rotate(-45 547.45 639)" >PRD-H</text>
<path d="M393.8 435.8V423.8H427.1V435.8" fill="none" stroke="#111111" stroke-width="1.8" stroke-linejoin="miter"/>
<text x="405.2 416.6" y="416.07" font-family="'DejaVu Sans', sans-serif" font-weight="bold" font-size="14.5" text-anchor="middle" fill="#111111">∗∗</text>
<path d="M434.6 435.8V423.8H469.2V430" fill="none" stroke="#111111" stroke-width="1.8" stroke-linejoin="miter"/>
<text x="445.7 457.1" y="414.47" font-family="'DejaVu Sans', sans-serif" font-weight="bold" font-size="14.5" text-anchor="middle" fill="#111111">∗∗</text>
<path d="M434.6 412.2V401.1H505.8V412.2" fill="none" stroke="#111111" stroke-width="1.8" stroke-linejoin="miter"/>
<text x="453.1 464.5 475.9 487.3" y="392.77" font-family="'DejaVu Sans', sans-serif" font-weight="bold" font-size="14.5" text-anchor="middle" fill="#111111">∗∗∗∗</text>
<path d="M434.6 456.8V445.5H542.7V456.8" fill="none" stroke="#111111" stroke-width="1.8" stroke-linejoin="miter"/>
<text x="471.5 482.9 494.3 505.7" y="437.17" font-family="'DejaVu Sans', sans-serif" font-weight="bold" font-size="14.5" text-anchor="middle" fill="#111111">∗∗∗∗</text>
<text x="340.34" y="519.1" font-family="'Liberation Serif', 'DejaVu Serif', serif" font-weight="bold" font-size="16.8" text-anchor="middle" fill="#111111" transform="rotate(-90 340.34 519.1)" >NEFA (mmol/L)</text>
<text x="339.9" y="657.88" font-family="'Liberation Serif', 'DejaVu Serif', serif" font-weight="bold" font-size="15" text-anchor="middle" fill="#111111" >F</text>
<path d="M630.2 618.2V594.3H651.2V618.2" fill="none" stroke="#111111" stroke-width="3.0"/>
<path d="M667.5 618.2V484.4H688.1V618.2" fill="none" stroke="#EA0B66" stroke-width="3.0"/>
<path d="M704.4 618.2V552.1H725.4V618.2" fill="none" stroke="#15717F" stroke-width="3.0"/>
<path d="M741.7 618.2V568.8H762.3V618.2" fill="none" stroke="#4A0B6B" stroke-width="3.0"/>
<path d="M779 618.2V577.6H799.6V618.2" fill="none" stroke="#AA7BE8" stroke-width="3.0"/>
<circle cx="632.7" cy="588.9" r="3.7" fill="#111111"/>
<circle cx="640.5" cy="586" r="3.7" fill="#111111"/>
<circle cx="649.3" cy="586" r="3.7" fill="#111111"/>
<circle cx="632.7" cy="597.7" r="3.7" fill="#111111"/>
<circle cx="640.5" cy="595.8" r="3.7" fill="#111111"/>
<circle cx="649.3" cy="595.8" r="3.7" fill="#111111"/>
<line x1="677.8" y1="446.2" x2="677.8" y2="516.9" stroke="#EA0B66" stroke-width="1.0" />
<line x1="672.3" y1="446.2" x2="683.3" y2="446.2" stroke="#EA0B66" stroke-width="1.25" />
<line x1="672.3" y1="516.9" x2="683.3" y2="516.9" stroke="#EA0B66" stroke-width="1.25" />
<circle cx="677.8" cy="436.4" r="3.7" fill="#EA0B66"/>
<circle cx="677.8" cy="454" r="3.7" fill="#EA0B66"/>
<circle cx="669" cy="481.9" r="3.7" fill="#EA0B66"/>
<circle cx="686.6" cy="476.4" r="3.7" fill="#EA0B66"/>
<circle cx="677.8" cy="509.4" r="3.7" fill="#EA0B66"/>
<circle cx="677.8" cy="532" r="3.7" fill="#EA0B66"/>
<line x1="714.9" y1="538.4" x2="714.9" y2="562.4" stroke="#15717F" stroke-width="1.0" />
<line x1="709.4" y1="538.4" x2="720.4" y2="538.4" stroke="#15717F" stroke-width="1.25" />
<line x1="709.4" y1="562.4" x2="720.4" y2="562.4" stroke="#15717F" stroke-width="1.25" />
<circle cx="715.1" cy="532" r="3.7" fill="#15717F"/>
<circle cx="706.3" cy="543.7" r="3.7" fill="#15717F"/>
<circle cx="723.3" cy="546.7" r="3.7" fill="#15717F"/>
<circle cx="706.3" cy="554.5" r="3.7" fill="#15717F"/>
<circle cx="723.3" cy="561.4" r="3.7" fill="#15717F"/>
<circle cx="706.3" cy="566.3" r="3.7" fill="#15717F"/>
<line x1="752" y1="534.5" x2="752" y2="598.1" stroke="#4A0B6B" stroke-width="1.0" />
<line x1="746.5" y1="534.5" x2="757.5" y2="534.5" stroke="#4A0B6B" stroke-width="1.25" />
<line x1="746.5" y1="598.1" x2="757.5" y2="598.1" stroke="#4A0B6B" stroke-width="1.25" />
<circle cx="752" cy="521.6" r="3.7" fill="#4A0B6B"/>
<circle cx="752" cy="537.3" r="3.7" fill="#4A0B6B"/>
<circle cx="752" cy="564.7" r="3.7" fill="#4A0B6B"/>
<circle cx="743.6" cy="584.4" r="3.7" fill="#4A0B6B"/>
<circle cx="760.2" cy="587.5" r="3.7" fill="#4A0B6B"/>
<circle cx="752" cy="602.6" r="3.7" fill="#4A0B6B"/>
<line x1="789.3" y1="554.5" x2="789.3" y2="595.4" stroke="#AA7BE8" stroke-width="1.0" />
<line x1="783.8" y1="554.5" x2="794.8" y2="554.5" stroke="#AA7BE8" stroke-width="1.25" />
<line x1="783.8" y1="595.4" x2="794.8" y2="595.4" stroke="#AA7BE8" stroke-width="1.25" />
<circle cx="789.3" cy="550.6" r="3.7" fill="#AA7BE8"/>
<circle cx="780.8" cy="560.4" r="3.7" fill="#AA7BE8"/>
<circle cx="797.5" cy="562.8" r="3.7" fill="#AA7BE8"/>
<circle cx="789.3" cy="578.1" r="3.7" fill="#AA7BE8"/>
<circle cx="780.8" cy="598.7" r="3.7" fill="#AA7BE8"/>
<circle cx="797.5" cy="597.7" r="3.7" fill="#AA7BE8"/>
<line x1="616.1" y1="419.8" x2="616.1" y2="618.2" stroke="#111111" stroke-width="1.8" />
<line x1="615.2" y1="618.2" x2="813.8" y2="618.2" stroke="#111111" stroke-width="2.0" />
<line x1="616.1" y1="420.3" x2="619.6" y2="420.3" stroke="#111111" stroke-width="1.4" />
<text x="612.3" y="425.09" font-family="'Liberation Serif', 'DejaVu Serif', serif" font-weight="bold" font-size="14.5" text-anchor="end" fill="#111111" >10</text>
<line x1="616.1" y1="460.1" x2="619.6" y2="460.1" stroke="#111111" stroke-width="1.4" />
<text x="612.3" y="464.89" font-family="'Liberation Serif', 'DejaVu Serif', serif" font-weight="bold" font-size="14.5" text-anchor="end" fill="#111111" >8</text>
<line x1="616.1" y1="499.6" x2="619.6" y2="499.6" stroke="#111111" stroke-width="1.4" />
<text x="612.3" y="504.39" font-family="'Liberation Serif', 'DejaVu Serif', serif" font-weight="bold" font-size="14.5" text-anchor="end" fill="#111111" >6</text>
<line x1="616.1" y1="539.5" x2="619.6" y2="539.5" stroke="#111111" stroke-width="1.4" />
<text x="612.3" y="544.28" font-family="'Liberation Serif', 'DejaVu Serif', serif" font-weight="bold" font-size="14.5" text-anchor="end" fill="#111111" >4</text>
<line x1="616.1" y1="578.7" x2="619.6" y2="578.7" stroke="#111111" stroke-width="1.4" />
<text x="612.3" y="583.49" font-family="'Liberation Serif', 'DejaVu Serif', serif" font-weight="bold" font-size="14.5" text-anchor="end" fill="#111111" >2</text>
<line x1="616.1" y1="618.2" x2="619.6" y2="618.2" stroke="#111111" stroke-width="1.4" />
<text x="612.3" y="622.99" font-family="'Liberation Serif', 'DejaVu Serif', serif" font-weight="bold" font-size="14.5" text-anchor="end" fill="#111111" >0</text>
<line x1="640.7" y1="619.2" x2="640.7" y2="621.7" stroke="#111111" stroke-width="0.8" opacity="0.6"/>
<text x="645.9" y="639.2" font-family="'Liberation Serif', 'DejaVu Serif', serif" font-weight="bold" font-size="14.2" text-anchor="end" fill="#111111" transform="rotate(-45 645.9 639.2)" >control</text>
<line x1="677.8" y1="619.2" x2="677.8" y2="621.7" stroke="#111111" stroke-width="0.8" opacity="0.6"/>
<text x="683" y="639.2" font-family="'Liberation Serif', 'DejaVu Serif', serif" font-weight="bold" font-size="14.2" text-anchor="end" fill="#111111" transform="rotate(-45 683 639.2)" >model</text>
<line x1="714.9" y1="619.2" x2="714.9" y2="621.7" stroke="#111111" stroke-width="0.8" opacity="0.6"/>
<text x="720.1" y="639.2" font-family="'Liberation Serif', 'DejaVu Serif', serif" font-weight="bold" font-size="14.2" text-anchor="end" fill="#111111" transform="rotate(-45 720.1 639.2)" >PRD-L</text>
<line x1="752" y1="619.2" x2="752" y2="621.7" stroke="#111111" stroke-width="0.8" opacity="0.6"/>
<text x="757.2" y="639.2" font-family="'Liberation Serif', 'DejaVu Serif', serif" font-weight="bold" font-size="14.2" text-anchor="end" fill="#111111" transform="rotate(-45 757.2 639.2)" >PRD-M</text>
<line x1="789.3" y1="619.2" x2="789.3" y2="621.7" stroke="#111111" stroke-width="0.8" opacity="0.6"/>
<text x="794.5" y="639.2" font-family="'Liberation Serif', 'DejaVu Serif', serif" font-weight="bold" font-size="14.2" text-anchor="end" fill="#111111" transform="rotate(-45 794.5 639.2)" >PRD-H</text>
<path d="M640.6 413.2V401.8H673.9V413.2" fill="none" stroke="#111111" stroke-width="1.8" stroke-linejoin="miter"/>
<text x="652 663.4" y="394.07" font-family="'DejaVu Sans', sans-serif" font-weight="bold" font-size="14.5" text-anchor="middle" fill="#111111">∗∗</text>
<path d="M681 413.2V401.8H714.4V413.2" fill="none" stroke="#111111" stroke-width="1.8" stroke-linejoin="miter"/>
<text x="692.5 703.9" y="394.07" font-family="'DejaVu Sans', sans-serif" font-weight="bold" font-size="14.5" text-anchor="middle" fill="#111111">∗∗</text>
<path d="M681 393.7V381.7H752.3V393.7" fill="none" stroke="#111111" stroke-width="1.8" stroke-linejoin="miter"/>
<text x="699.6 711 722.4 733.8" y="373.97" font-family="'DejaVu Sans', sans-serif" font-weight="bold" font-size="14.5" text-anchor="middle" fill="#111111">∗∗∗∗</text>
<path d="M681 433.6V422.9H788.9V433.6" fill="none" stroke="#111111" stroke-width="1.8" stroke-linejoin="miter"/>
<text x="724.1 735.5 746.9" y="413.87" font-family="'DejaVu Sans', sans-serif" font-weight="bold" font-size="14.5" text-anchor="middle" fill="#111111">∗∗∗</text>
<text x="588.92" y="519" font-family="'Liberation Serif', 'DejaVu Serif', serif" font-weight="bold" font-size="16.4" text-anchor="middle" fill="#111111" transform="rotate(-90 588.92 519)" >TG (mmol/L)</text>
<text x="587.3" y="657.88" font-family="'Liberation Serif', 'DejaVu Serif', serif" font-weight="bold" font-size="15" text-anchor="middle" fill="#111111" >G</text>
<path d="M874.6 626V609.8H895.1V626" fill="none" stroke="#111111" stroke-width="3.0"/>
<path d="M912 626V487.6H931.8V626" fill="none" stroke="#EA0B66" stroke-width="3.0"/>
<path d="M948.7 626V538.9H968.8V626" fill="none" stroke="#15717F" stroke-width="3.0"/>
<path d="M986.6 626V547.4H1005.9V626" fill="none" stroke="#4A0B6B" stroke-width="3.0"/>
<path d="M1023.1 626V581.1H1043.8V626" fill="none" stroke="#AA7BE8" stroke-width="3.0"/>
<circle cx="876.8" cy="609.3" r="3.7" fill="#111111"/>
<circle cx="886.1" cy="607.4" r="3.7" fill="#111111"/>
<circle cx="893.5" cy="604.6" r="3.7" fill="#111111"/>
<circle cx="876.8" cy="616.7" r="3.7" fill="#111111"/>
<circle cx="886.1" cy="614.8" r="3.7" fill="#111111"/>
<circle cx="893.5" cy="613.9" r="3.7" fill="#111111"/>
<line x1="921.9" y1="470.4" x2="921.9" y2="499.6" stroke="#EA0B66" stroke-width="1.0" />
<line x1="916.4" y1="470.4" x2="927.4" y2="470.4" stroke="#EA0B66" stroke-width="1.25" />
<line x1="916.4" y1="499.6" x2="927.4" y2="499.6" stroke="#EA0B66" stroke-width="1.25" />
<circle cx="917.6" cy="466.3" r="3.7" fill="#EA0B66"/>
<circle cx="926.4" cy="470.4" r="3.7" fill="#EA0B66"/>
<circle cx="913.9" cy="484.3" r="3.7" fill="#EA0B66"/>
<circle cx="922.2" cy="483" r="3.7" fill="#EA0B66"/>
<circle cx="930.5" cy="486.1" r="3.7" fill="#EA0B66"/>
<circle cx="922.2" cy="493.5" r="3.7" fill="#EA0B66"/>
<circle cx="922.2" cy="512" r="3.7" fill="#EA0B66"/>
<line x1="958.75" y1="494.4" x2="958.75" y2="578.7" stroke="#15717F" stroke-width="1.0" />
<line x1="953.25" y1="494.4" x2="964.25" y2="494.4" stroke="#15717F" stroke-width="1.25" />
<line x1="953.25" y1="578.7" x2="964.25" y2="578.7" stroke="#15717F" stroke-width="1.25" />
<circle cx="959.2" cy="460.7" r="3.7" fill="#15717F"/>
<circle cx="959.2" cy="500.4" r="3.7" fill="#15717F"/>
<circle cx="959.2" cy="530" r="3.7" fill="#15717F"/>
<circle cx="950.9" cy="559.6" r="3.7" fill="#15717F"/>
<circle cx="959.2" cy="563.9" r="3.7" fill="#15717F"/>
<circle cx="967.2" cy="567" r="3.7" fill="#15717F"/>
<circle cx="950.9" cy="573.7" r="3.7" fill="#15717F"/>
<line x1="996.25" y1="500.4" x2="996.25" y2="588" stroke="#4A0B6B" stroke-width="1.0" />
<line x1="990.75" y1="500.4" x2="1001.75" y2="500.4" stroke="#4A0B6B" stroke-width="1.25" />
<line x1="990.75" y1="588" x2="1001.75" y2="588" stroke="#4A0B6B" stroke-width="1.25" />
<circle cx="987.9" cy="502.2" r="3.7" fill="#4A0B6B"/>
<circle cx="1004.6" cy="506.5" r="3.7" fill="#4A0B6B"/>
<circle cx="987.9" cy="520" r="3.7" fill="#4A0B6B"/>
<circle cx="1004.6" cy="524.4" r="3.7" fill="#4A0B6B"/>
<circle cx="996.3" cy="550" r="3.7" fill="#4A0B6B"/>
<circle cx="996.3" cy="588" r="3.7" fill="#4A0B6B"/>
<circle cx="996.3" cy="617.6" r="3.7" fill="#4A0B6B"/>
<line x1="1033.45" y1="563.9" x2="1033.45" y2="594.4" stroke="#AA7BE8" stroke-width="1.0" />
<line x1="1027.95" y1="563.9" x2="1038.95" y2="563.9" stroke="#AA7BE8" stroke-width="1.25" />
<line x1="1027.95" y1="594.4" x2="1038.95" y2="594.4" stroke="#AA7BE8" stroke-width="1.25" />
<circle cx="1033.3" cy="558.9" r="3.7" fill="#AA7BE8"/>
<circle cx="1024.6" cy="568.5" r="3.7" fill="#AA7BE8"/>
<circle cx="1041.3" cy="568.1" r="3.7" fill="#AA7BE8"/>
<circle cx="1024.6" cy="581.1" r="3.7" fill="#AA7BE8"/>
<circle cx="1041.3" cy="580.6" r="3.7" fill="#AA7BE8"/>
<circle cx="1024.6" cy="601.5" r="3.7" fill="#AA7BE8"/>
<circle cx="1041.3" cy="597.2" r="3.7" fill="#AA7BE8"/>
<line x1="860.6" y1="428.2" x2="860.6" y2="626" stroke="#111111" stroke-width="1.8" />
<line x1="859.7" y1="626" x2="1058.6" y2="626" stroke="#111111" stroke-width="2.0" />
<line x1="860.6" y1="428.7" x2="864.1" y2="428.7" stroke="#111111" stroke-width="1.4" />
<text x="856.9" y="433.55" font-family="'Liberation Serif', 'DejaVu Serif', serif" font-weight="bold" font-size="14.7" text-anchor="end" fill="#111111" >25</text>
<line x1="860.6" y1="468.5" x2="864.1" y2="468.5" stroke="#111111" stroke-width="1.4" />
<text x="856.9" y="473.35" font-family="'Liberation Serif', 'DejaVu Serif', serif" font-weight="bold" font-size="14.7" text-anchor="end" fill="#111111" >20</text>
<line x1="860.6" y1="508.6" x2="864.1" y2="508.6" stroke="#111111" stroke-width="1.4" />
<text x="856.9" y="513.45" font-family="'Liberation Serif', 'DejaVu Serif', serif" font-weight="bold" font-size="14.7" text-anchor="end" fill="#111111" >15</text>
<line x1="860.6" y1="547.5" x2="864.1" y2="547.5" stroke="#111111" stroke-width="1.4" />
<text x="856.9" y="552.35" font-family="'Liberation Serif', 'DejaVu Serif', serif" font-weight="bold" font-size="14.7" text-anchor="end" fill="#111111" >10</text>
<line x1="860.6" y1="587" x2="864.1" y2="587" stroke="#111111" stroke-width="1.4" />
<text x="856.9" y="591.85" font-family="'Liberation Serif', 'DejaVu Serif', serif" font-weight="bold" font-size="14.7" text-anchor="end" fill="#111111" >5</text>
<line x1="860.6" y1="626" x2="864.1" y2="626" stroke="#111111" stroke-width="1.4" />
<text x="856.9" y="630.85" font-family="'Liberation Serif', 'DejaVu Serif', serif" font-weight="bold" font-size="14.7" text-anchor="end" fill="#111111" >0</text>
<line x1="884.85" y1="627" x2="884.85" y2="629.5" stroke="#111111" stroke-width="0.8" opacity="0.6"/>
<text x="890.05" y="647" font-family="'Liberation Serif', 'DejaVu Serif', serif" font-weight="bold" font-size="14.2" text-anchor="end" fill="#111111" transform="rotate(-45 890.05 647)" >control</text>
<line x1="921.9" y1="627" x2="921.9" y2="629.5" stroke="#111111" stroke-width="0.8" opacity="0.6"/>
<text x="927.1" y="647" font-family="'Liberation Serif', 'DejaVu Serif', serif" font-weight="bold" font-size="14.2" text-anchor="end" fill="#111111" transform="rotate(-45 927.1 647)" >model</text>
<line x1="958.75" y1="627" x2="958.75" y2="629.5" stroke="#111111" stroke-width="0.8" opacity="0.6"/>
<text x="963.95" y="647" font-family="'Liberation Serif', 'DejaVu Serif', serif" font-weight="bold" font-size="14.2" text-anchor="end" fill="#111111" transform="rotate(-45 963.95 647)" >PRD-L</text>
<line x1="996.25" y1="627" x2="996.25" y2="629.5" stroke="#111111" stroke-width="0.8" opacity="0.6"/>
<text x="1001.45" y="647" font-family="'Liberation Serif', 'DejaVu Serif', serif" font-weight="bold" font-size="14.2" text-anchor="end" fill="#111111" transform="rotate(-45 1001.45 647)" >PRD-M</text>
<line x1="1033.45" y1="627" x2="1033.45" y2="629.5" stroke="#111111" stroke-width="0.8" opacity="0.6"/>
<text x="1038.65" y="647" font-family="'Liberation Serif', 'DejaVu Serif', serif" font-weight="bold" font-size="14.2" text-anchor="end" fill="#111111" transform="rotate(-45 1038.65 647)" >PRD-H</text>
<path d="M885.1 441.6V429.6H917.8V441.6" fill="none" stroke="#111111" stroke-width="1.8" stroke-linejoin="miter"/>
<text x="884.5 895.9 907.3 918.7" y="422.57" font-family="'DejaVu Sans', sans-serif" font-weight="bold" font-size="14.5" text-anchor="middle" fill="#111111">∗∗∗∗</text>
<path d="M925.9 458.5V450.4H958.9V458.5" fill="none" stroke="#111111" stroke-width="1.8" stroke-linejoin="miter"/>
<text x="942.7" y="441.97" font-family="'DejaVu Sans', sans-serif" font-weight="bold" font-size="14.5" text-anchor="middle" fill="#111111">∗</text>
<path d="M925.9 441.6V429.3H996.1V441.6" fill="none" stroke="#111111" stroke-width="1.8" stroke-linejoin="miter"/>
<text x="960.5" y="421.87" font-family="'DejaVu Sans', sans-serif" font-weight="bold" font-size="14.5" text-anchor="middle" fill="#111111">∗</text>
<path d="M925.9 421.9V409.9H1033.4V421.9" fill="none" stroke="#111111" stroke-width="1.8" stroke-linejoin="miter"/>
<text x="962.9 974.3 985.7 997.1" y="402.47" font-family="'DejaVu Sans', sans-serif" font-weight="bold" font-size="14.5" text-anchor="middle" fill="#111111">∗∗∗∗</text>
<text x="832.85" y="529" font-family="'Liberation Serif', 'DejaVu Serif', serif" font-weight="bold" font-size="18.5" text-anchor="middle" fill="#111111" transform="rotate(-90 832.85 529)" >serum insulin (mIU/L)</text>
<text x="829.6" y="658.88" font-family="'Liberation Serif', 'DejaVu Serif', serif" font-weight="bold" font-size="15" text-anchor="middle" fill="#111111" >H</text>
<path d="M142.8 953.8V934.3H163.9V953.8" fill="none" stroke="#111111" stroke-width="3.0"/>
<path d="M179.9 953.8V883H200.9V953.8" fill="none" stroke="#EA0B66" stroke-width="3.0"/>
<path d="M216.9 953.8V920.4H237.6V953.8" fill="none" stroke="#15717F" stroke-width="3.0"/>
<path d="M253.9 953.8V919.5H274.6V953.8" fill="none" stroke="#4A0B6B" stroke-width="3.0"/>
<path d="M291 953.8V928.7H311.7V953.8" fill="none" stroke="#AA7BE8" stroke-width="3.0"/>
<line x1="153.35" y1="926.3" x2="153.35" y2="936.5" stroke="#111111" stroke-width="1.0" />
<line x1="147.85" y1="926.3" x2="158.85" y2="926.3" stroke="#111111" stroke-width="1.25" />
<line x1="147.85" y1="936.5" x2="158.85" y2="936.5" stroke="#111111" stroke-width="1.25" />
<circle cx="144.7" cy="922.6" r="3.7" fill="#111111"/>
<circle cx="153.4" cy="922.6" r="3.7" fill="#111111"/>
<circle cx="161.7" cy="922.6" r="3.7" fill="#111111"/>
<circle cx="153.4" cy="934.6" r="3.7" fill="#111111"/>
<circle cx="148.7" cy="945.7" r="3.7" fill="#111111"/>
<circle cx="157.6" cy="943" r="3.7" fill="#111111"/>
<line x1="190.4" y1="833.3" x2="190.4" y2="928.7" stroke="#EA0B66" stroke-width="1.0" />
<line x1="184.9" y1="833.3" x2="195.9" y2="833.3" stroke="#EA0B66" stroke-width="1.25" />
<line x1="184.9" y1="928.7" x2="195.9" y2="928.7" stroke="#EA0B66" stroke-width="1.25" />
<circle cx="190.6" cy="786" r="3.7" fill="#EA0B66"/>
<circle cx="190.6" cy="880" r="3.7" fill="#EA0B66"/>
<circle cx="182.6" cy="899.4" r="3.7" fill="#EA0B66"/>
<circle cx="198.4" cy="896.3" r="3.7" fill="#EA0B66"/>
<circle cx="182.6" cy="911.5" r="3.7" fill="#EA0B66"/>
<circle cx="198.4" cy="911.9" r="3.7" fill="#EA0B66"/>
<circle cx="219.1" cy="914.3" r="3.7" fill="#15717F"/>
<circle cx="228" cy="916.7" r="3.7" fill="#15717F"/>
<circle cx="235.4" cy="916.7" r="3.7" fill="#15717F"/>
<circle cx="228" cy="922.2" r="3.7" fill="#15717F"/>
<circle cx="228" cy="928.1" r="3.7" fill="#15717F"/>
<circle cx="223" cy="916" r="3.7" fill="#15717F"/>
<line x1="264.25" y1="901.3" x2="264.25" y2="937" stroke="#4A0B6B" stroke-width="1.0" />
<line x1="258.75" y1="901.3" x2="269.75" y2="901.3" stroke="#4A0B6B" stroke-width="1.25" />
<line x1="258.75" y1="937" x2="269.75" y2="937" stroke="#4A0B6B" stroke-width="1.25" />
<circle cx="264.1" cy="893.9" r="3.7" fill="#4A0B6B"/>
<circle cx="264.1" cy="906.9" r="3.7" fill="#4A0B6B"/>
<circle cx="255.8" cy="918.9" r="3.7" fill="#4A0B6B"/>
<circle cx="273.4" cy="918" r="3.7" fill="#4A0B6B"/>
<circle cx="264.1" cy="931.5" r="3.7" fill="#4A0B6B"/>
<circle cx="264.1" cy="943.9" r="3.7" fill="#4A0B6B"/>
<line x1="301.35" y1="915.2" x2="301.35" y2="940.2" stroke="#AA7BE8" stroke-width="1.0" />
<line x1="295.85" y1="915.2" x2="306.85" y2="915.2" stroke="#AA7BE8" stroke-width="1.25" />
<line x1="295.85" y1="940.2" x2="306.85" y2="940.2" stroke="#AA7BE8" stroke-width="1.25" />
<circle cx="292.8" cy="913.7" r="3.7" fill="#AA7BE8"/>
<circle cx="310.4" cy="913.7" r="3.7" fill="#AA7BE8"/>
<circle cx="292.8" cy="927.2" r="3.7" fill="#AA7BE8"/>
<circle cx="310.4" cy="927.2" r="3.7" fill="#AA7BE8"/>
<circle cx="301.1" cy="937.4" r="3.7" fill="#AA7BE8"/>
<circle cx="301.1" cy="945.7" r="3.7" fill="#AA7BE8"/>
<line x1="128.9" y1="756.4" x2="128.9" y2="953.8" stroke="#111111" stroke-width="2.1" />
<line x1="127.85" y1="953.8" x2="327" y2="953.8" stroke="#111111" stroke-width="2.0" />
<line x1="128.9" y1="756.9" x2="132.4" y2="756.9" stroke="#111111" stroke-width="1.4" />
<text x="125.2" y="761.92" font-family="'Liberation Serif', 'DejaVu Serif', serif" font-weight="bold" font-size="15.2" text-anchor="end" fill="#111111" >3000</text>
<line x1="128.9" y1="822.7" x2="132.4" y2="822.7" stroke="#111111" stroke-width="1.4" />
<text x="125.2" y="827.72" font-family="'Liberation Serif', 'DejaVu Serif', serif" font-weight="bold" font-size="15.2" text-anchor="end" fill="#111111" >2000</text>
<line x1="128.9" y1="888.3" x2="132.4" y2="888.3" stroke="#111111" stroke-width="1.4" />
<text x="125.2" y="893.32" font-family="'Liberation Serif', 'DejaVu Serif', serif" font-weight="bold" font-size="15.2" text-anchor="end" fill="#111111" >1000</text>
<line x1="128.9" y1="953.8" x2="132.4" y2="953.8" stroke="#111111" stroke-width="1.4" />
<text x="125.2" y="958.82" font-family="'Liberation Serif', 'DejaVu Serif', serif" font-weight="bold" font-size="15.2" text-anchor="end" fill="#111111" >0</text>
<line x1="153.35" y1="954.8" x2="153.35" y2="957.3" stroke="#111111" stroke-width="0.8" opacity="0.6"/>
<text x="158.55" y="976.3" font-family="'Liberation Serif', 'DejaVu Serif', serif" font-weight="bold" font-size="14.8" text-anchor="end" fill="#111111" transform="rotate(-45 158.55 976.3)" >control</text>
<line x1="190.4" y1="954.8" x2="190.4" y2="957.3" stroke="#111111" stroke-width="0.8" opacity="0.6"/>
<text x="195.6" y="976.3" font-family="'Liberation Serif', 'DejaVu Serif', serif" font-weight="bold" font-size="14.8" text-anchor="end" fill="#111111" transform="rotate(-45 195.6 976.3)" >model</text>
<line x1="227.25" y1="954.8" x2="227.25" y2="957.3" stroke="#111111" stroke-width="0.8" opacity="0.6"/>
<text x="232.45" y="976.3" font-family="'Liberation Serif', 'DejaVu Serif', serif" font-weight="bold" font-size="14.8" text-anchor="end" fill="#111111" transform="rotate(-45 232.45 976.3)" >PRD-L</text>
<line x1="264.25" y1="954.8" x2="264.25" y2="957.3" stroke="#111111" stroke-width="0.8" opacity="0.6"/>
<text x="269.45" y="976.3" font-family="'Liberation Serif', 'DejaVu Serif', serif" font-weight="bold" font-size="14.8" text-anchor="end" fill="#111111" transform="rotate(-45 269.45 976.3)" >PRD-M</text>
<line x1="301.35" y1="954.8" x2="301.35" y2="957.3" stroke="#111111" stroke-width="0.8" opacity="0.6"/>
<text x="306.55" y="976.3" font-family="'Liberation Serif', 'DejaVu Serif', serif" font-weight="bold" font-size="14.8" text-anchor="end" fill="#111111" transform="rotate(-45 306.55 976.3)" >PRD-H</text>
<path d="M150 798.5V789.8H191V798.5" fill="none" stroke="#111111" stroke-width="1.8" stroke-linejoin="miter"/>
<text x="171" y="781.37" font-family="'DejaVu Sans', sans-serif" font-weight="bold" font-size="14.5" text-anchor="middle" fill="#111111">∗</text>
<path d="M204.4 800.7V789.8H298.7V800.7" fill="none" stroke="#111111" stroke-width="1.8" stroke-linejoin="miter"/>
<text x="251.5" y="780.24" font-family="'Liberation Serif', 'DejaVu Serif', serif" font-weight="bold" font-size="17" text-anchor="middle" fill="#111111" >#</text>
<text x="86.83" y="857.3" font-family="'Liberation Serif', 'DejaVu Serif', serif" font-weight="bold" font-size="19.1" text-anchor="middle" fill="#111111" transform="rotate(-90 86.83 857.3)" >TNF-<tspan font-style="italic">α</tspan> (pg/mol)</text>
<text x="80.3" y="992.67" font-family="'Liberation Serif', 'DejaVu Serif', serif" font-weight="bold" font-size="15" text-anchor="middle" fill="#111111" >I</text>
<path d="M399.5 955.5V911.1H420.1V955.5" fill="none" stroke="#111111" stroke-width="3.0"/>
<path d="M436.6 955.5V835.2H457.1V955.5" fill="none" stroke="#EA0B66" stroke-width="3.0"/>
<path d="M473.6 955.5V902.8H494.1V955.5" fill="none" stroke="#15717F" stroke-width="3.0"/>
<path d="M510.6 955.5V885.2H531.7V955.5" fill="none" stroke="#4A0B6B" stroke-width="3.0"/>
<path d="M547.7 955.5V912.6H568.8V955.5" fill="none" stroke="#AA7BE8" stroke-width="3.0"/>
<line x1="409.8" y1="895.2" x2="409.8" y2="922.6" stroke="#111111" stroke-width="1.0" />
<line x1="404.3" y1="895.2" x2="415.3" y2="895.2" stroke="#111111" stroke-width="1.25" />
<line x1="404.3" y1="922.6" x2="415.3" y2="922.6" stroke="#111111" stroke-width="1.25" />
<circle cx="410.1" cy="885.9" r="3.7" fill="#111111"/>
<circle cx="410.1" cy="900" r="3.7" fill="#111111"/>
<circle cx="418.4" cy="910.6" r="3.7" fill="#111111"/>
<circle cx="401.7" cy="917" r="3.7" fill="#111111"/>
<circle cx="418.4" cy="919.8" r="3.7" fill="#111111"/>
<circle cx="401.7" cy="926.3" r="3.7" fill="#111111"/>
<line x1="446.85" y1="809.6" x2="446.85" y2="871.7" stroke="#EA0B66" stroke-width="1.0" />
<line x1="441.35" y1="809.6" x2="452.35" y2="809.6" stroke="#EA0B66" stroke-width="1.25" />
<line x1="441.35" y1="871.7" x2="452.35" y2="871.7" stroke="#EA0B66" stroke-width="1.25" />
<rect x="443.4" y="789.6" width="7.4" height="7.4" fill="#EA0B66"/>
<rect x="435.1" y="825.4" width="7.4" height="7.4" fill="#EA0B66"/>
<rect x="435.1" y="832.8" width="7.4" height="7.4" fill="#EA0B66"/>
<rect x="451.7" y="832.8" width="7.4" height="7.4" fill="#EA0B66"/>
<rect x="443.4" y="855.9" width="7.4" height="7.4" fill="#EA0B66"/>
<rect x="443.4" y="882.8" width="7.4" height="7.4" fill="#EA0B66"/>
<line x1="483.85" y1="880.9" x2="483.85" y2="919.3" stroke="#15717F" stroke-width="1.0" />
<line x1="478.35" y1="880.9" x2="489.35" y2="880.9" stroke="#15717F" stroke-width="1.25" />
<line x1="478.35" y1="919.3" x2="489.35" y2="919.3" stroke="#15717F" stroke-width="1.25" />
<path d="M484.1 865.54L488.36 873.2L479.85 873.2Z" fill="#15717F"/>
<path d="M475.8 889.64L480.06 897.3L471.55 897.3Z" fill="#15717F"/>
<path d="M492.5 889.64L496.75 897.3L488.25 897.3Z" fill="#15717F"/>
<path d="M475.8 906.35L480.06 914L471.55 914Z" fill="#15717F"/>
<path d="M492.5 910.95L496.75 918.6L488.25 918.6Z" fill="#15717F"/>
<path d="M475.8 918.35L480.06 926L471.55 926Z" fill="#15717F"/>
<line x1="521.15" y1="852.2" x2="521.15" y2="913" stroke="#4A0B6B" stroke-width="1.0" />
<line x1="515.65" y1="852.2" x2="526.65" y2="852.2" stroke="#4A0B6B" stroke-width="1.25" />
<line x1="515.65" y1="913" x2="526.65" y2="913" stroke="#4A0B6B" stroke-width="1.25" />
<circle cx="521.2" cy="845.7" r="3.7" fill="#4A0B6B"/>
<circle cx="521.2" cy="858.7" r="3.7" fill="#4A0B6B"/>
<circle cx="521.2" cy="870.7" r="3.7" fill="#4A0B6B"/>
<circle cx="521.2" cy="882.2" r="3.7" fill="#4A0B6B"/>
<circle cx="521.2" cy="910.6" r="3.7" fill="#4A0B6B"/>
<circle cx="521.2" cy="925.4" r="3.7" fill="#4A0B6B"/>
<line x1="558.25" y1="901.3" x2="558.25" y2="921.7" stroke="#AA7BE8" stroke-width="1.0" />
<line x1="552.75" y1="901.3" x2="563.75" y2="901.3" stroke="#AA7BE8" stroke-width="1.25" />
<line x1="552.75" y1="921.7" x2="563.75" y2="921.7" stroke="#AA7BE8" stroke-width="1.25" />
<circle cx="554.5" cy="899.4" r="3.7" fill="#AA7BE8"/>
<circle cx="562.9" cy="896.3" r="3.7" fill="#AA7BE8"/>
<circle cx="549.9" cy="910.6" r="3.7" fill="#AA7BE8"/>
<circle cx="558.2" cy="914.3" r="3.7" fill="#AA7BE8"/>
<circle cx="566.6" cy="913.3" r="3.7" fill="#AA7BE8"/>
<circle cx="558.2" cy="925.4" r="3.7" fill="#AA7BE8"/>
<line x1="385.4" y1="757.3" x2="385.4" y2="955.5" stroke="#111111" stroke-width="2.3" />
<line x1="384.25" y1="955.5" x2="581.6" y2="955.5" stroke="#111111" stroke-width="2.0" />
<line x1="385.4" y1="757.8" x2="388.9" y2="757.8" stroke="#111111" stroke-width="1.4" />
<text x="381.9" y="762.91" font-family="'Liberation Serif', 'DejaVu Serif', serif" font-weight="bold" font-size="15.5" text-anchor="end" fill="#111111" >6000</text>
<line x1="385.4" y1="823.7" x2="388.9" y2="823.7" stroke="#111111" stroke-width="1.4" />
<text x="381.9" y="828.82" font-family="'Liberation Serif', 'DejaVu Serif', serif" font-weight="bold" font-size="15.5" text-anchor="end" fill="#111111" >4000</text>
<line x1="385.4" y1="889.6" x2="388.9" y2="889.6" stroke="#111111" stroke-width="1.4" />
<text x="381.9" y="894.72" font-family="'Liberation Serif', 'DejaVu Serif', serif" font-weight="bold" font-size="15.5" text-anchor="end" fill="#111111" >2000</text>
<line x1="385.4" y1="955.5" x2="388.9" y2="955.5" stroke="#111111" stroke-width="1.4" />
<text x="381.9" y="960.62" font-family="'Liberation Serif', 'DejaVu Serif', serif" font-weight="bold" font-size="15.5" text-anchor="end" fill="#111111" >0</text>
<line x1="409.8" y1="956.5" x2="409.8" y2="959" stroke="#111111" stroke-width="0.8" opacity="0.6"/>
<text x="415" y="978" font-family="'Liberation Serif', 'DejaVu Serif', serif" font-weight="bold" font-size="14.8" text-anchor="end" fill="#111111" transform="rotate(-45 415 978)" >control</text>
<line x1="446.85" y1="956.5" x2="446.85" y2="959" stroke="#111111" stroke-width="0.8" opacity="0.6"/>
<text x="452.05" y="978" font-family="'Liberation Serif', 'DejaVu Serif', serif" font-weight="bold" font-size="14.8" text-anchor="end" fill="#111111" transform="rotate(-45 452.05 978)" >model</text>
<line x1="483.85" y1="956.5" x2="483.85" y2="959" stroke="#111111" stroke-width="0.8" opacity="0.6"/>
<text x="489.05" y="978" font-family="'Liberation Serif', 'DejaVu Serif', serif" font-weight="bold" font-size="14.8" text-anchor="end" fill="#111111" transform="rotate(-45 489.05 978)" >PRD-L</text>
<line x1="521.15" y1="956.5" x2="521.15" y2="959" stroke="#111111" stroke-width="0.8" opacity="0.6"/>
<text x="526.35" y="978" font-family="'Liberation Serif', 'DejaVu Serif', serif" font-weight="bold" font-size="14.8" text-anchor="end" fill="#111111" transform="rotate(-45 526.35 978)" >PRD-M</text>
<line x1="558.25" y1="956.5" x2="558.25" y2="959" stroke="#111111" stroke-width="0.8" opacity="0.6"/>
<text x="563.45" y="978" font-family="'Liberation Serif', 'DejaVu Serif', serif" font-weight="bold" font-size="14.8" text-anchor="end" fill="#111111" transform="rotate(-45 563.45 978)" >PRD-H</text>
<path d="M409.8 786.9V775.6H443.4V786.9" fill="none" stroke="#111111" stroke-width="1.8" stroke-linejoin="miter"/>
<text x="415.2 426.6 438" y="767.27" font-family="'DejaVu Sans', sans-serif" font-weight="bold" font-size="14.5" text-anchor="middle" fill="#111111">∗∗∗</text>
<path d="M446.9 756.2V744.9H484.1V756.2" fill="none" stroke="#111111" stroke-width="1.8" stroke-linejoin="miter"/>
<text x="453.9 465.3 476.7" y="736.57" font-family="'DejaVu Sans', sans-serif" font-weight="bold" font-size="14.5" text-anchor="middle" fill="#111111">∗∗∗</text>
<path d="M450.8 788.5V776.6H521.9V788.5" fill="none" stroke="#111111" stroke-width="1.8" stroke-linejoin="miter"/>
<text x="486.3" y="768.17" font-family="'DejaVu Sans', sans-serif" font-weight="bold" font-size="14.5" text-anchor="middle" fill="#111111">∗</text>
<path d="M446.9 731.3V719.1H558.4V731.3" fill="none" stroke="#111111" stroke-width="1.8" stroke-linejoin="miter"/>
<text x="491.1 502.5 513.9" y="711.37" font-family="'DejaVu Sans', sans-serif" font-weight="bold" font-size="14.5" text-anchor="middle" fill="#111111">∗∗∗</text>
<text x="344.68" y="856.8" font-family="'Liberation Serif', 'DejaVu Serif', serif" font-weight="bold" font-size="18.6" text-anchor="middle" fill="#111111" transform="rotate(-90 344.68 856.8)" >IL-6 (pg/mol)</text>
<text x="349.6" y="992.88" font-family="'Liberation Serif', 'DejaVu Serif', serif" font-weight="bold" font-size="15" text-anchor="middle" fill="#111111" >J</text>
<path d="M644.1 956.2V911.5H664.1V956.2" fill="none" stroke="#111111" stroke-width="3.0"/>
<path d="M681.1 956.2V862.1H701.6V956.2" fill="none" stroke="#EA0B66" stroke-width="3.0"/>
<path d="M718.2 956.2V892.6H738.1V956.2" fill="none" stroke="#15717F" stroke-width="3.0"/>
<path d="M755.2 956.2V892.6H775.7V956.2" fill="none" stroke="#4A0B6B" stroke-width="3.0"/>
<path d="M792.2 956.2V908.9H812.8V956.2" fill="none" stroke="#AA7BE8" stroke-width="3.0"/>
<line x1="654.1" y1="898.5" x2="654.1" y2="909.6" stroke="#111111" stroke-width="1.0" />
<line x1="648.6" y1="898.5" x2="659.6" y2="898.5" stroke="#111111" stroke-width="1.25" />
<line x1="648.6" y1="909.6" x2="659.6" y2="909.6" stroke="#111111" stroke-width="1.25" />
<circle cx="645.7" cy="895.7" r="3.7" fill="#111111"/>
<circle cx="654.1" cy="897.6" r="3.7" fill="#111111"/>
<circle cx="663" cy="896.7" r="3.7" fill="#111111"/>
<circle cx="645.7" cy="923.5" r="3.7" fill="#111111"/>
<circle cx="654.1" cy="921.7" r="3.7" fill="#111111"/>
<circle cx="663" cy="922.6" r="3.7" fill="#111111"/>
<line x1="691.35" y1="836.5" x2="691.35" y2="881.9" stroke="#EA0B66" stroke-width="1.0" />
<line x1="685.85" y1="836.5" x2="696.85" y2="836.5" stroke="#EA0B66" stroke-width="1.25" />
<line x1="685.85" y1="881.9" x2="696.85" y2="881.9" stroke="#EA0B66" stroke-width="1.25" />
<circle cx="691.1" cy="825.4" r="3.7" fill="#EA0B66"/>
<circle cx="682.8" cy="848.5" r="3.7" fill="#EA0B66"/>
<circle cx="700" cy="854.4" r="3.7" fill="#EA0B66"/>
<circle cx="682.8" cy="856.9" r="3.7" fill="#EA0B66"/>
<circle cx="691.1" cy="875.9" r="3.7" fill="#EA0B66"/>
<circle cx="691.1" cy="891.5" r="3.7" fill="#EA0B66"/>
<line x1="728.15" y1="868.9" x2="728.15" y2="911.9" stroke="#15717F" stroke-width="1.0" />
<line x1="722.65" y1="868.9" x2="733.65" y2="868.9" stroke="#15717F" stroke-width="1.25" />
<line x1="722.65" y1="911.9" x2="733.65" y2="911.9" stroke="#15717F" stroke-width="1.25" />
<circle cx="728.1" cy="850.4" r="3.7" fill="#15717F"/>
<circle cx="719.8" cy="887.4" r="3.7" fill="#15717F"/>
<circle cx="736.5" cy="889.3" r="3.7" fill="#15717F"/>
<circle cx="719.8" cy="893.9" r="3.7" fill="#15717F"/>
<circle cx="736.5" cy="906.9" r="3.7" fill="#15717F"/>
<circle cx="719.8" cy="909.6" r="3.7" fill="#15717F"/>
<line x1="765.45" y1="868" x2="765.45" y2="911.9" stroke="#4A0B6B" stroke-width="1.0" />
<line x1="759.95" y1="868" x2="770.95" y2="868" stroke="#4A0B6B" stroke-width="1.25" />
<line x1="759.95" y1="911.9" x2="770.95" y2="911.9" stroke="#4A0B6B" stroke-width="1.25" />
<circle cx="765.2" cy="864.3" r="3.7" fill="#4A0B6B"/>
<circle cx="765.2" cy="873.5" r="3.7" fill="#4A0B6B"/>
<circle cx="765.2" cy="883.7" r="3.7" fill="#4A0B6B"/>
<circle cx="756.9" cy="892" r="3.7" fill="#4A0B6B"/>
<circle cx="773.5" cy="898.1" r="3.7" fill="#4A0B6B"/>
<circle cx="765.2" cy="926.7" r="3.7" fill="#4A0B6B"/>
<line x1="802.5" y1="890.7" x2="802.5" y2="924.8" stroke="#AA7BE8" stroke-width="1.0" />
<line x1="797" y1="890.7" x2="808" y2="890.7" stroke="#AA7BE8" stroke-width="1.25" />
<line x1="797" y1="924.8" x2="808" y2="924.8" stroke="#AA7BE8" stroke-width="1.25" />
<circle cx="802.2" cy="880" r="3.7" fill="#AA7BE8"/>
<circle cx="793.9" cy="899.4" r="3.7" fill="#AA7BE8"/>
<circle cx="811.1" cy="907.4" r="3.7" fill="#AA7BE8"/>
<circle cx="793.9" cy="910.6" r="3.7" fill="#AA7BE8"/>
<circle cx="809.3" cy="915.2" r="3.7" fill="#AA7BE8"/>
<circle cx="802.2" cy="932.8" r="3.7" fill="#AA7BE8"/>
<line x1="629.8" y1="758.2" x2="629.8" y2="956.2" stroke="#111111" stroke-width="2.1" />
<line x1="628.75" y1="956.2" x2="828" y2="956.2" stroke="#111111" stroke-width="2.0" />
<line x1="629.8" y1="758.7" x2="633.3" y2="758.7" stroke="#111111" stroke-width="1.4" />
<text x="626.3" y="763.82" font-family="'Liberation Serif', 'DejaVu Serif', serif" font-weight="bold" font-size="15.5" text-anchor="end" fill="#111111" >1500</text>
<line x1="629.8" y1="824.8" x2="633.3" y2="824.8" stroke="#111111" stroke-width="1.4" />
<text x="626.3" y="829.91" font-family="'Liberation Serif', 'DejaVu Serif', serif" font-weight="bold" font-size="15.5" text-anchor="end" fill="#111111" >1000</text>
<line x1="629.8" y1="890.8" x2="633.3" y2="890.8" stroke="#111111" stroke-width="1.4" />
<text x="626.3" y="895.91" font-family="'Liberation Serif', 'DejaVu Serif', serif" font-weight="bold" font-size="15.5" text-anchor="end" fill="#111111" >500</text>
<line x1="629.8" y1="956.2" x2="633.3" y2="956.2" stroke="#111111" stroke-width="1.4" />
<text x="626.3" y="961.32" font-family="'Liberation Serif', 'DejaVu Serif', serif" font-weight="bold" font-size="15.5" text-anchor="end" fill="#111111" >0</text>
<line x1="654.1" y1="957.2" x2="654.1" y2="959.7" stroke="#111111" stroke-width="0.8" opacity="0.6"/>
<text x="659.3" y="978.7" font-family="'Liberation Serif', 'DejaVu Serif', serif" font-weight="bold" font-size="14.8" text-anchor="end" fill="#111111" transform="rotate(-45 659.3 978.7)" >control</text>
<line x1="691.35" y1="957.2" x2="691.35" y2="959.7" stroke="#111111" stroke-width="0.8" opacity="0.6"/>
<text x="696.55" y="978.7" font-family="'Liberation Serif', 'DejaVu Serif', serif" font-weight="bold" font-size="14.8" text-anchor="end" fill="#111111" transform="rotate(-45 696.55 978.7)" >model</text>
<line x1="728.15" y1="957.2" x2="728.15" y2="959.7" stroke="#111111" stroke-width="0.8" opacity="0.6"/>
<text x="733.35" y="978.7" font-family="'Liberation Serif', 'DejaVu Serif', serif" font-weight="bold" font-size="14.8" text-anchor="end" fill="#111111" transform="rotate(-45 733.35 978.7)" >PRD-L</text>
<line x1="765.45" y1="957.2" x2="765.45" y2="959.7" stroke="#111111" stroke-width="0.8" opacity="0.6"/>
<text x="770.65" y="978.7" font-family="'Liberation Serif', 'DejaVu Serif', serif" font-weight="bold" font-size="14.8" text-anchor="end" fill="#111111" transform="rotate(-45 770.65 978.7)" >PRD-M</text>
<line x1="802.5" y1="957.2" x2="802.5" y2="959.7" stroke="#111111" stroke-width="0.8" opacity="0.6"/>
<text x="807.7" y="978.7" font-family="'Liberation Serif', 'DejaVu Serif', serif" font-weight="bold" font-size="14.8" text-anchor="end" fill="#111111" transform="rotate(-45 807.7 978.7)" >PRD-H</text>
<path d="M653.9 813.9V802.2H691.5V813.9" fill="none" stroke="#111111" stroke-width="1.8" stroke-linejoin="miter"/>
<text x="672.4" y="793.57" font-family="'DejaVu Sans', sans-serif" font-weight="bold" font-size="14.5" text-anchor="middle" fill="#111111">∗</text>
<path d="M706.2 811V802.2H794.8V811" fill="none" stroke="#111111" stroke-width="1.8" stroke-linejoin="miter"/>
<text x="750.2" y="792.34" font-family="'Liberation Serif', 'DejaVu Serif', serif" font-weight="bold" font-size="17" text-anchor="middle" fill="#111111" >#</text>
<text x="587.31" y="857.8" font-family="'Liberation Serif', 'DejaVu Serif', serif" font-weight="bold" font-size="16.7" text-anchor="middle" fill="#111111" transform="rotate(-90 587.31 857.8)" >INF-<tspan font-style="italic">γ</tspan> (pg/mol)</text>
<text x="601.5" y="992.67" font-family="'Liberation Serif', 'DejaVu Serif', serif" font-weight="bold" font-size="15" text-anchor="middle" fill="#111111" >K</text>
<path d="M893.9 960V900H914.5V960" fill="none" stroke="#111111" stroke-width="3.0"/>
<path d="M931.4 960V833.4H951.5V960" fill="none" stroke="#EA0B66" stroke-width="3.0"/>
<path d="M968.4 960V883H988.5V960" fill="none" stroke="#15717F" stroke-width="3.0"/>
<path d="M1005.4 960V876.3H1025.6V960" fill="none" stroke="#4A0B6B" stroke-width="3.0"/>
<path d="M1042.1 960V894.8H1062.1V960" fill="none" stroke="#AA7BE8" stroke-width="3.0"/>
<line x1="904.2" y1="885.2" x2="904.2" y2="910.6" stroke="#111111" stroke-width="1.0" />
<line x1="898.7" y1="885.2" x2="909.7" y2="885.2" stroke="#111111" stroke-width="1.25" />
<line x1="898.7" y1="910.6" x2="909.7" y2="910.6" stroke="#111111" stroke-width="1.25" />
<circle cx="913.2" cy="884.1" r="3.7" fill="#111111"/>
<circle cx="895.6" cy="891.1" r="3.7" fill="#111111"/>
<circle cx="904.9" cy="890.7" r="3.7" fill="#111111"/>
<circle cx="913.2" cy="897" r="3.7" fill="#111111"/>
<circle cx="904.9" cy="902.2" r="3.7" fill="#111111"/>
<circle cx="904.9" cy="920.7" r="3.7" fill="#111111"/>
<line x1="941.45" y1="806.9" x2="941.45" y2="855" stroke="#EA0B66" stroke-width="1.0" />
<line x1="935.95" y1="806.9" x2="946.95" y2="806.9" stroke="#EA0B66" stroke-width="1.25" />
<line x1="935.95" y1="855" x2="946.95" y2="855" stroke="#EA0B66" stroke-width="1.25" />
<circle cx="941.5" cy="795.2" r="3.7" fill="#EA0B66"/>
<circle cx="941.5" cy="806.9" r="3.7" fill="#EA0B66"/>
<circle cx="933.2" cy="841.1" r="3.7" fill="#EA0B66"/>
<circle cx="949.3" cy="844.8" r="3.7" fill="#EA0B66"/>
<circle cx="941.5" cy="860" r="3.7" fill="#EA0B66"/>
<circle cx="949.3" cy="841" r="3.7" fill="#EA0B66"/>
<line x1="978.45" y1="852.2" x2="978.45" y2="908.7" stroke="#15717F" stroke-width="1.0" />
<line x1="972.95" y1="852.2" x2="983.95" y2="852.2" stroke="#15717F" stroke-width="1.25" />
<line x1="972.95" y1="908.7" x2="983.95" y2="908.7" stroke="#15717F" stroke-width="1.25" />
<circle cx="978" cy="836.5" r="3.7" fill="#15717F"/>
<circle cx="970" cy="866.7" r="3.7" fill="#15717F"/>
<circle cx="986.9" cy="873" r="3.7" fill="#15717F"/>
<circle cx="978" cy="885.6" r="3.7" fill="#15717F"/>
<circle cx="978" cy="907.4" r="3.7" fill="#15717F"/>
<circle cx="978" cy="914.8" r="3.7" fill="#15717F"/>
<line x1="1015.5" y1="838.9" x2="1015.5" y2="908.1" stroke="#4A0B6B" stroke-width="1.0" />
<line x1="1010" y1="838.9" x2="1021" y2="838.9" stroke="#4A0B6B" stroke-width="1.25" />
<line x1="1010" y1="908.1" x2="1021" y2="908.1" stroke="#4A0B6B" stroke-width="1.25" />
<circle cx="1015" cy="825.4" r="3.7" fill="#4A0B6B"/>
<circle cx="1015" cy="839.6" r="3.7" fill="#4A0B6B"/>
<circle cx="1015" cy="872.6" r="3.7" fill="#4A0B6B"/>
<circle cx="1015" cy="893" r="3.7" fill="#4A0B6B"/>
<circle cx="1015" cy="901.9" r="3.7" fill="#4A0B6B"/>
<circle cx="1015" cy="909.6" r="3.7" fill="#4A0B6B"/>
<line x1="1052.1" y1="872.6" x2="1052.1" y2="912.4" stroke="#AA7BE8" stroke-width="1.0" />
<line x1="1046.6" y1="872.6" x2="1057.6" y2="872.6" stroke="#AA7BE8" stroke-width="1.25" />
<line x1="1046.6" y1="912.4" x2="1057.6" y2="912.4" stroke="#AA7BE8" stroke-width="1.25" />
<circle cx="1052.4" cy="866.1" r="3.7" fill="#AA7BE8"/>
<circle cx="1044.1" cy="882.2" r="3.7" fill="#AA7BE8"/>
<circle cx="1061" cy="884.1" r="3.7" fill="#AA7BE8"/>
<circle cx="1052.4" cy="892" r="3.7" fill="#AA7BE8"/>
<circle cx="1052.4" cy="910.6" r="3.7" fill="#AA7BE8"/>
<circle cx="1052.4" cy="919.8" r="3.7" fill="#AA7BE8"/>
<line x1="879.8" y1="762" x2="879.8" y2="960" stroke="#111111" stroke-width="2.2" />
<line x1="878.7" y1="960" x2="1073.8" y2="960" stroke="#111111" stroke-width="2.0" />
<line x1="879.8" y1="762.5" x2="883.3" y2="762.5" stroke="#111111" stroke-width="1.4" />
<text x="876.3" y="767.48" font-family="'Liberation Serif', 'DejaVu Serif', serif" font-weight="bold" font-size="15.1" text-anchor="end" fill="#111111" >200</text>
<line x1="879.8" y1="811.8" x2="883.3" y2="811.8" stroke="#111111" stroke-width="1.4" />
<text x="876.3" y="816.78" font-family="'Liberation Serif', 'DejaVu Serif', serif" font-weight="bold" font-size="15.1" text-anchor="end" fill="#111111" >150</text>
<line x1="879.8" y1="861.7" x2="883.3" y2="861.7" stroke="#111111" stroke-width="1.4" />
<text x="876.3" y="866.68" font-family="'Liberation Serif', 'DejaVu Serif', serif" font-weight="bold" font-size="15.1" text-anchor="end" fill="#111111" >100</text>
<line x1="879.8" y1="910.7" x2="883.3" y2="910.7" stroke="#111111" stroke-width="1.4" />
<text x="876.3" y="915.68" font-family="'Liberation Serif', 'DejaVu Serif', serif" font-weight="bold" font-size="15.1" text-anchor="end" fill="#111111" >50</text>
<line x1="879.8" y1="960" x2="883.3" y2="960" stroke="#111111" stroke-width="1.4" />
<text x="876.3" y="964.98" font-family="'Liberation Serif', 'DejaVu Serif', serif" font-weight="bold" font-size="15.1" text-anchor="end" fill="#111111" >0</text>
<line x1="904.2" y1="961" x2="904.2" y2="963.5" stroke="#111111" stroke-width="0.8" opacity="0.6"/>
<text x="909.4" y="982.5" font-family="'Liberation Serif', 'DejaVu Serif', serif" font-weight="bold" font-size="14.8" text-anchor="end" fill="#111111" transform="rotate(-45 909.4 982.5)" >control</text>
<line x1="941.45" y1="961" x2="941.45" y2="963.5" stroke="#111111" stroke-width="0.8" opacity="0.6"/>
<text x="946.65" y="982.5" font-family="'Liberation Serif', 'DejaVu Serif', serif" font-weight="bold" font-size="14.8" text-anchor="end" fill="#111111" transform="rotate(-45 946.65 982.5)" >model</text>
<line x1="978.45" y1="961" x2="978.45" y2="963.5" stroke="#111111" stroke-width="0.8" opacity="0.6"/>
<text x="983.65" y="982.5" font-family="'Liberation Serif', 'DejaVu Serif', serif" font-weight="bold" font-size="14.8" text-anchor="end" fill="#111111" transform="rotate(-45 983.65 982.5)" >PRD-L</text>
<line x1="1015.5" y1="961" x2="1015.5" y2="963.5" stroke="#111111" stroke-width="0.8" opacity="0.6"/>
<text x="1020.7" y="982.5" font-family="'Liberation Serif', 'DejaVu Serif', serif" font-weight="bold" font-size="14.8" text-anchor="end" fill="#111111" transform="rotate(-45 1020.7 982.5)" >PRD-M</text>
<line x1="1052.1" y1="961" x2="1052.1" y2="963.5" stroke="#111111" stroke-width="0.8" opacity="0.6"/>
<text x="1057.3" y="982.5" font-family="'Liberation Serif', 'DejaVu Serif', serif" font-weight="bold" font-size="14.8" text-anchor="end" fill="#111111" transform="rotate(-45 1057.3 982.5)" >PRD-H</text>
<path d="M904.5 791.3V780.2H938V791.3" fill="none" stroke="#111111" stroke-width="1.8" stroke-linejoin="miter"/>
<text x="921.2" y="772.07" font-family="'DejaVu Sans', sans-serif" font-weight="bold" font-size="14.5" text-anchor="middle" fill="#111111">∗</text>
<path d="M945.6 791.3V780.2H978.5V791.3" fill="none" stroke="#111111" stroke-width="1.8" stroke-linejoin="miter"/>
<text x="962.3" y="771.57" font-family="'DejaVu Sans', sans-serif" font-weight="bold" font-size="14.5" text-anchor="middle" fill="#111111">∗</text>
<path d="M940.9 765.5V754.6H1052.7V765.5" fill="none" stroke="#111111" stroke-width="1.8" stroke-linejoin="miter"/>
<text x="991.3 1002.7" y="745.67" font-family="'DejaVu Sans', sans-serif" font-weight="bold" font-size="14.5" text-anchor="middle" fill="#111111">∗∗</text>
<text x="846.04" y="861.6" font-family="'Liberation Serif', 'DejaVu Serif', serif" font-weight="bold" font-size="18.8" text-anchor="middle" fill="#111111" transform="rotate(-90 846.04 861.6)" >IL-1β (pg/mol)</text>
<text x="846.8" y="992.67" font-family="'Liberation Serif', 'DejaVu Serif', serif" font-weight="bold" font-size="15" text-anchor="middle" fill="#111111" >L</text>
</svg></body></html>
